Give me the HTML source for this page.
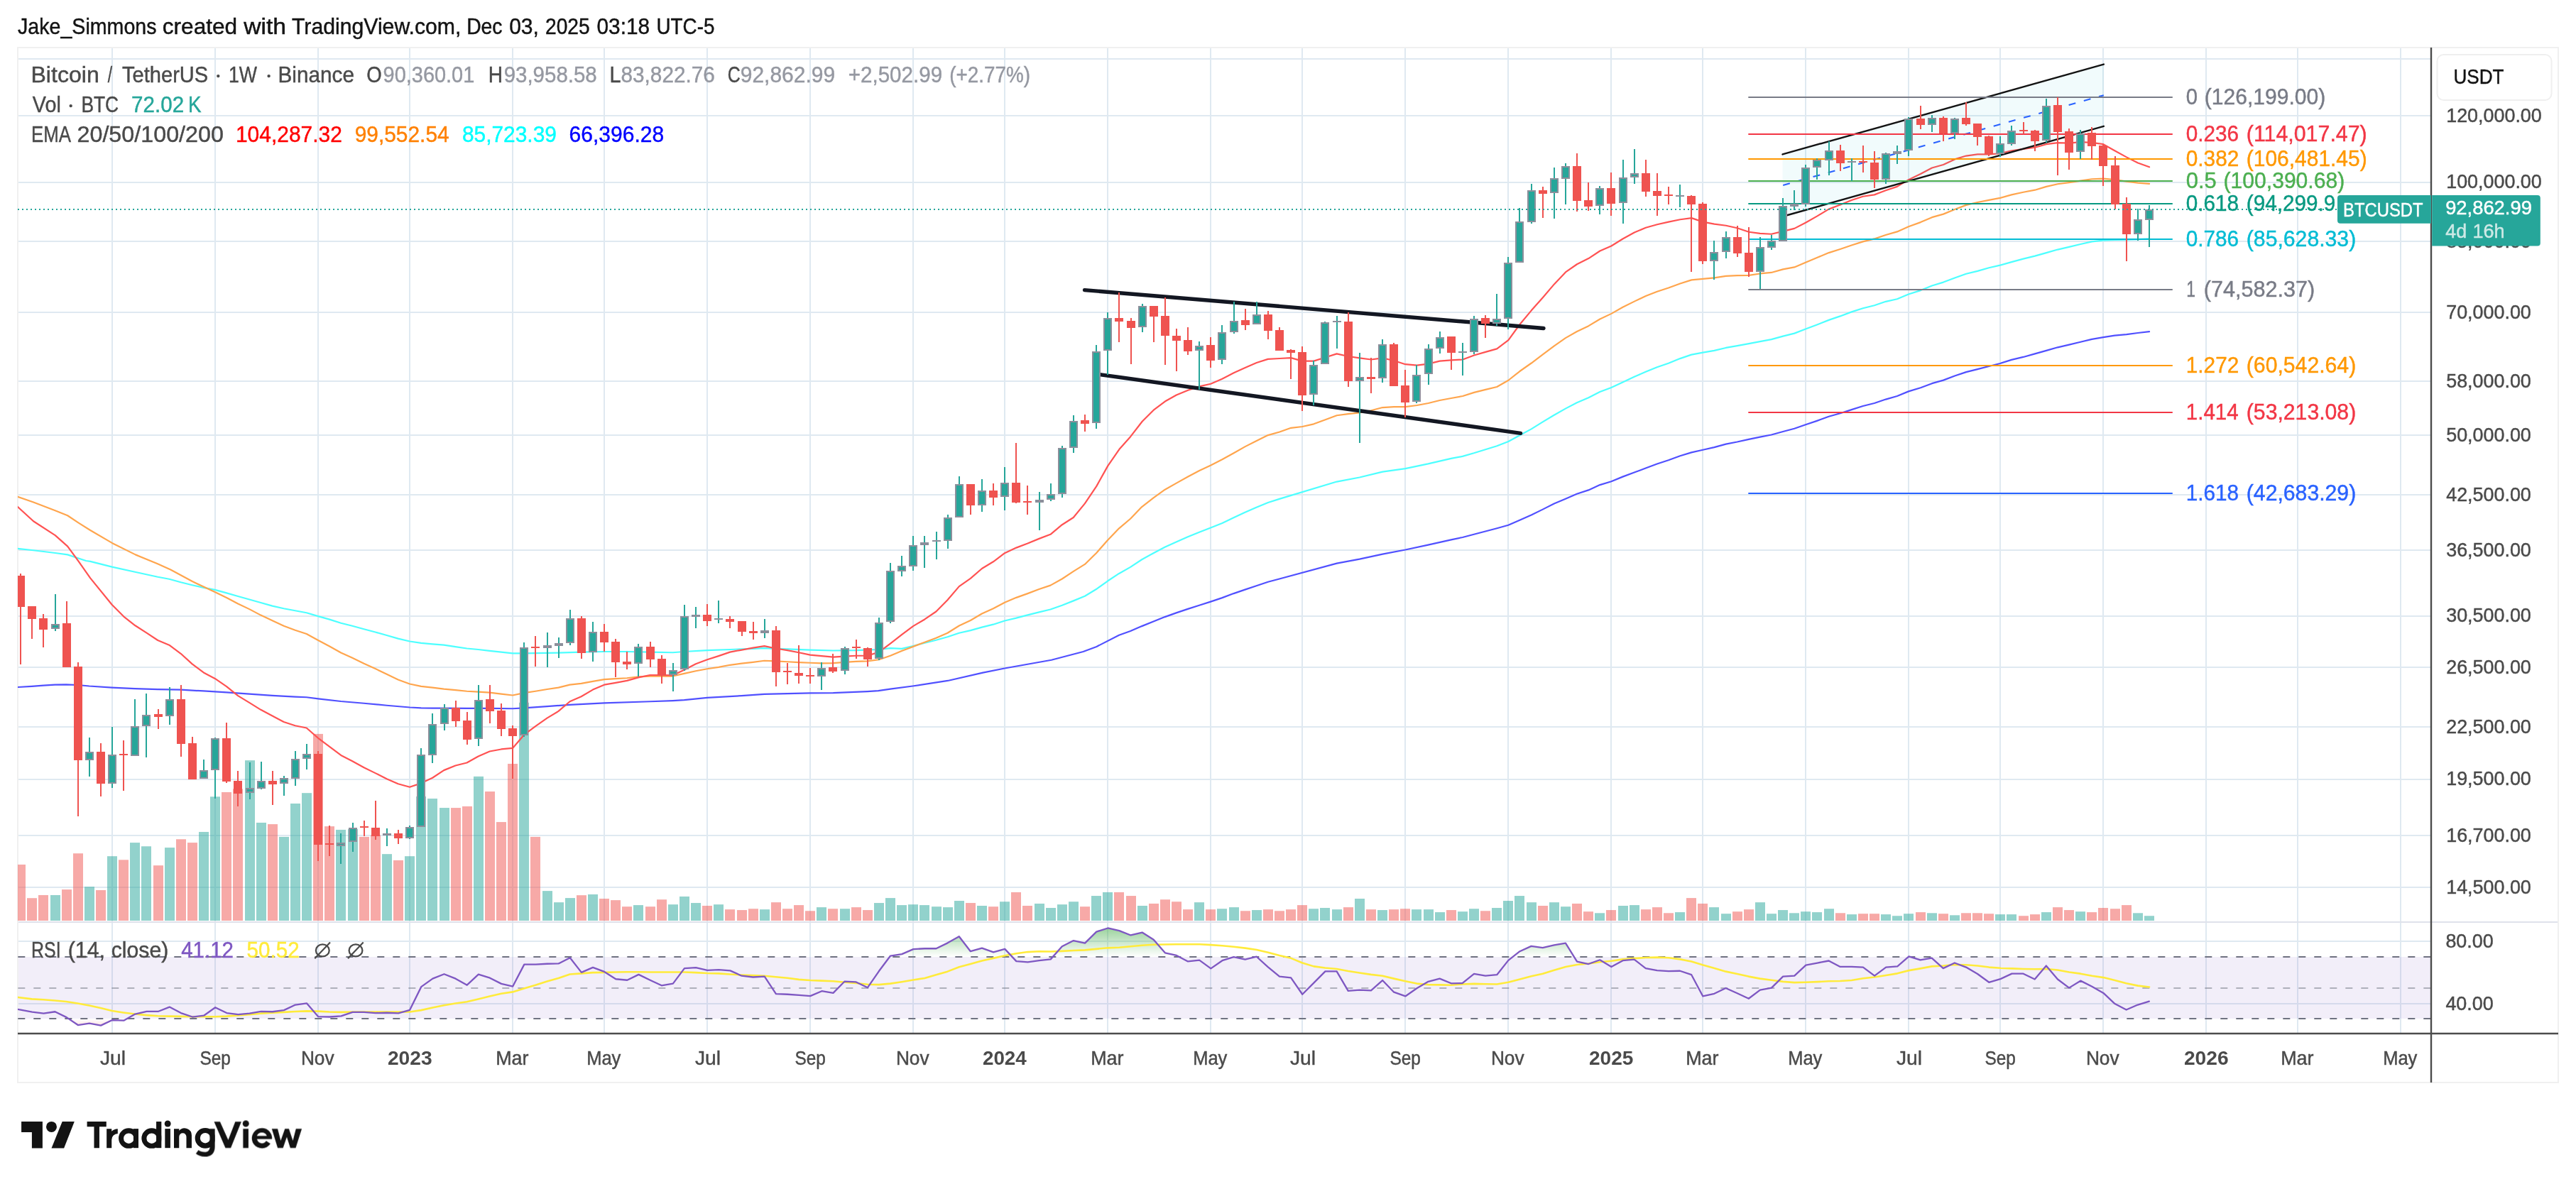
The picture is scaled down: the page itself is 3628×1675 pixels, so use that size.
<!DOCTYPE html>
<html><head><meta charset="utf-8"><title>BTCUSDT chart</title>
<style>html,body{margin:0;padding:0;background:#fff;}body{width:3628px;height:1675px;overflow:hidden;}svg{display:block;font-family:'Liberation Sans', sans-serif;}</style>
</head><body>
<svg width="3628" height="1675" viewBox="0 0 3628 1675">
<defs>
<linearGradient id="ob" x1="0" y1="0" x2="0" y2="1"><stop offset="0" stop-color="#4caf50" stop-opacity="0.75"/><stop offset="1" stop-color="#4caf50" stop-opacity="0"/></linearGradient>
<linearGradient id="os" x1="0" y1="0" x2="0" y2="1"><stop offset="0" stop-color="#ff5252" stop-opacity="0"/><stop offset="1" stop-color="#ff5252" stop-opacity="0.6"/></linearGradient>
<clipPath id="cpMain"><rect x="25" y="67" width="3399" height="1232"/></clipPath>
<clipPath id="cpAll"><rect x="25" y="67" width="3399" height="1389"/></clipPath>
</defs>
<rect x="0" y="0" width="3628" height="1675" fill="#ffffff"/>
<g opacity="0.999">
<text x="25.07" y="48.4" font-size="30.7" fill="#131313" stroke="#131313" stroke-width="0.45" textLength="195.46" lengthAdjust="spacingAndGlyphs">Jake_Simmons</text>
<text x="228.74" y="48.4" font-size="30.7" fill="#131313" stroke="#131313" stroke-width="0.45" textLength="105.48" lengthAdjust="spacingAndGlyphs">created</text>
<text x="343.17" y="48.4" font-size="30.7" fill="#131313" stroke="#131313" stroke-width="0.45" textLength="59.97" lengthAdjust="spacingAndGlyphs">with</text>
<text x="411" y="48.4" font-size="30.7" fill="#131313" stroke="#131313" stroke-width="0.45" textLength="238.36" lengthAdjust="spacingAndGlyphs">TradingView.com,</text>
<text x="657.13" y="48.4" font-size="30.7" fill="#131313" stroke="#131313" stroke-width="0.45" textLength="50.43" lengthAdjust="spacingAndGlyphs">Dec</text>
<text x="717.15" y="48.4" font-size="30.7" fill="#131313" stroke="#131313" stroke-width="0.45" textLength="41.76" lengthAdjust="spacingAndGlyphs">03,</text>
<text x="767.99" y="48.4" font-size="30.7" fill="#131313" stroke="#131313" stroke-width="0.45" textLength="62.73" lengthAdjust="spacingAndGlyphs">2025</text>
<text x="840.56" y="48.4" font-size="30.7" fill="#131313" stroke="#131313" stroke-width="0.45" textLength="74.51" lengthAdjust="spacingAndGlyphs">03:18</text>
<text x="924.51" y="48.4" font-size="30.7" fill="#131313" stroke="#131313" stroke-width="0.45" textLength="81.88" lengthAdjust="spacingAndGlyphs">UTC-5</text>
<rect x="25" y="67" width="3578" height="1458" fill="none" stroke="#f0f0f0" stroke-width="2"/>
<g stroke="#dfe9f1" stroke-width="2">
<line x1="26" y1="83" x2="3423" y2="83"/>
<line x1="26" y1="163" x2="3423" y2="163"/>
<line x1="26" y1="257" x2="3423" y2="257"/>
<line x1="26" y1="340" x2="3423" y2="340"/>
<line x1="26" y1="440" x2="3423" y2="440"/>
<line x1="26" y1="537" x2="3423" y2="537"/>
<line x1="26" y1="613" x2="3423" y2="613"/>
<line x1="26" y1="697" x2="3423" y2="697"/>
<line x1="26" y1="775" x2="3423" y2="775"/>
<line x1="26" y1="868" x2="3423" y2="868"/>
<line x1="26" y1="940" x2="3423" y2="940"/>
<line x1="26" y1="1024" x2="3423" y2="1024"/>
<line x1="26" y1="1098" x2="3423" y2="1098"/>
<line x1="26" y1="1177" x2="3423" y2="1177"/>
<line x1="26" y1="1250" x2="3423" y2="1250"/>
<line x1="26" y1="1326" x2="3423" y2="1326"/>
<line x1="26" y1="1414" x2="3423" y2="1414"/>
<line x1="158" y1="68" x2="158" y2="1455"/>
<line x1="303" y1="68" x2="303" y2="1455"/>
<line x1="448" y1="68" x2="448" y2="1455"/>
<line x1="577" y1="68" x2="577" y2="1455"/>
<line x1="722" y1="68" x2="722" y2="1455"/>
<line x1="851" y1="68" x2="851" y2="1455"/>
<line x1="996" y1="68" x2="996" y2="1455"/>
<line x1="1141" y1="68" x2="1141" y2="1455"/>
<line x1="1286" y1="68" x2="1286" y2="1455"/>
<line x1="1415" y1="68" x2="1415" y2="1455"/>
<line x1="1560" y1="68" x2="1560" y2="1455"/>
<line x1="1705" y1="68" x2="1705" y2="1455"/>
<line x1="1834" y1="68" x2="1834" y2="1455"/>
<line x1="1979" y1="68" x2="1979" y2="1455"/>
<line x1="2124" y1="68" x2="2124" y2="1455"/>
<line x1="2269" y1="68" x2="2269" y2="1455"/>
<line x1="2398" y1="68" x2="2398" y2="1455"/>
<line x1="2543" y1="68" x2="2543" y2="1455"/>
<line x1="2688" y1="68" x2="2688" y2="1455"/>
<line x1="2817" y1="68" x2="2817" y2="1455"/>
<line x1="2962" y1="68" x2="2962" y2="1455"/>
<line x1="3107" y1="68" x2="3107" y2="1455"/>
<line x1="3236" y1="68" x2="3236" y2="1455"/>
<line x1="3381" y1="68" x2="3381" y2="1455"/>
</g>
<line x1="26" y1="1299" x2="3602" y2="1299" stroke="#dfe2eb" stroke-width="2"/>
<g clip-path="url(#cpMain)">
<g fill-opacity="0.5">
<rect x="22" y="1217.98" width="14" height="79.02" fill="#ef5350"/>
<rect x="38" y="1265.21" width="14" height="31.79" fill="#ef5350"/>
<rect x="54" y="1260.97" width="14" height="36.03" fill="#ef5350"/>
<rect x="71" y="1260.97" width="14" height="36.03" fill="#26a69a"/>
<rect x="87" y="1253.1" width="14" height="43.9" fill="#ef5350"/>
<rect x="103" y="1202.24" width="14" height="94.76" fill="#ef5350"/>
<rect x="119" y="1249.17" width="14" height="47.83" fill="#26a69a"/>
<rect x="135" y="1254.01" width="14" height="42.99" fill="#ef5350"/>
<rect x="151" y="1206.18" width="14" height="90.82" fill="#26a69a"/>
<rect x="167" y="1211.32" width="14" height="85.68" fill="#ef5350"/>
<rect x="183" y="1187.1" width="14" height="109.9" fill="#26a69a"/>
<rect x="199" y="1192.25" width="14" height="104.75" fill="#26a69a"/>
<rect x="216" y="1219.19" width="14" height="77.81" fill="#ef5350"/>
<rect x="232" y="1194.07" width="14" height="102.93" fill="#26a69a"/>
<rect x="248" y="1182.26" width="14" height="114.74" fill="#ef5350"/>
<rect x="264" y="1187.1" width="14" height="109.9" fill="#ef5350"/>
<rect x="280" y="1171.96" width="14" height="125.04" fill="#26a69a"/>
<rect x="296" y="1122.31" width="14" height="174.69" fill="#26a69a"/>
<rect x="312" y="1115.96" width="14" height="181.04" fill="#ef5350"/>
<rect x="328" y="1111.41" width="14" height="185.59" fill="#ef5350"/>
<rect x="345" y="1071.15" width="14" height="225.85" fill="#26a69a"/>
<rect x="361" y="1158.95" width="14" height="138.05" fill="#26a69a"/>
<rect x="377" y="1161.07" width="14" height="135.93" fill="#ef5350"/>
<rect x="393" y="1178.93" width="14" height="118.07" fill="#26a69a"/>
<rect x="409" y="1132" width="14" height="165" fill="#26a69a"/>
<rect x="425" y="1117.17" width="14" height="179.83" fill="#26a69a"/>
<rect x="441" y="1033.91" width="14" height="263.09" fill="#ef5350"/>
<rect x="457" y="1164.09" width="14" height="132.91" fill="#ef5350"/>
<rect x="473" y="1168.94" width="14" height="128.06" fill="#26a69a"/>
<rect x="490" y="1168.03" width="14" height="128.97" fill="#26a69a"/>
<rect x="506" y="1178.93" width="14" height="118.07" fill="#ef5350"/>
<rect x="522" y="1176.51" width="14" height="120.49" fill="#ef5350"/>
<rect x="538" y="1203.15" width="14" height="93.85" fill="#26a69a"/>
<rect x="554" y="1211.93" width="14" height="85.07" fill="#ef5350"/>
<rect x="570" y="1206.18" width="14" height="90.82" fill="#26a69a"/>
<rect x="586" y="1122.01" width="14" height="174.99" fill="#26a69a"/>
<rect x="602" y="1125.04" width="14" height="171.96" fill="#26a69a"/>
<rect x="619" y="1138.06" width="14" height="158.94" fill="#26a69a"/>
<rect x="635" y="1138.06" width="14" height="158.94" fill="#ef5350"/>
<rect x="651" y="1135.94" width="14" height="161.06" fill="#ef5350"/>
<rect x="667" y="1093.85" width="14" height="203.15" fill="#26a69a"/>
<rect x="683" y="1115.05" width="14" height="181.95" fill="#ef5350"/>
<rect x="699" y="1158.04" width="14" height="138.96" fill="#ef5350"/>
<rect x="715" y="1075.99" width="14" height="221.01" fill="#ef5350"/>
<rect x="731" y="989.8" width="14" height="307.2" fill="#26a69a"/>
<rect x="747" y="1178.93" width="14" height="118.07" fill="#ef5350"/>
<rect x="764" y="1255.1" width="14" height="41.9" fill="#26a69a"/>
<rect x="780" y="1271.15" width="14" height="25.85" fill="#26a69a"/>
<rect x="796" y="1265.09" width="14" height="31.91" fill="#26a69a"/>
<rect x="812" y="1261.16" width="14" height="35.84" fill="#ef5350"/>
<rect x="828" y="1259.95" width="14" height="37.05" fill="#26a69a"/>
<rect x="844" y="1266" width="14" height="31" fill="#ef5350"/>
<rect x="860" y="1268.12" width="14" height="28.88" fill="#ef5350"/>
<rect x="876" y="1277.2" width="14" height="19.8" fill="#ef5350"/>
<rect x="892" y="1275.08" width="14" height="21.92" fill="#26a69a"/>
<rect x="909" y="1277.2" width="14" height="19.8" fill="#ef5350"/>
<rect x="925" y="1267.21" width="14" height="29.79" fill="#ef5350"/>
<rect x="941" y="1274.17" width="14" height="22.83" fill="#26a69a"/>
<rect x="957" y="1262.97" width="14" height="34.03" fill="#26a69a"/>
<rect x="973" y="1272.06" width="14" height="24.94" fill="#26a69a"/>
<rect x="989" y="1275.99" width="14" height="21.01" fill="#ef5350"/>
<rect x="1005" y="1274.17" width="14" height="22.83" fill="#26a69a"/>
<rect x="1021" y="1281.14" width="14" height="15.86" fill="#ef5350"/>
<rect x="1038" y="1282.05" width="14" height="14.95" fill="#ef5350"/>
<rect x="1054" y="1280.23" width="14" height="16.77" fill="#ef5350"/>
<rect x="1070" y="1281.14" width="14" height="15.86" fill="#26a69a"/>
<rect x="1086" y="1271.15" width="14" height="25.85" fill="#ef5350"/>
<rect x="1102" y="1280.23" width="14" height="16.77" fill="#ef5350"/>
<rect x="1118" y="1275.08" width="14" height="21.92" fill="#ef5350"/>
<rect x="1134" y="1283.26" width="14" height="13.74" fill="#ef5350"/>
<rect x="1150" y="1278.11" width="14" height="18.89" fill="#26a69a"/>
<rect x="1166" y="1280.23" width="14" height="16.77" fill="#ef5350"/>
<rect x="1183" y="1280.23" width="14" height="16.77" fill="#26a69a"/>
<rect x="1199" y="1278.11" width="14" height="18.89" fill="#ef5350"/>
<rect x="1215" y="1282.05" width="14" height="14.95" fill="#ef5350"/>
<rect x="1231" y="1272.06" width="14" height="24.94" fill="#26a69a"/>
<rect x="1247" y="1265.09" width="14" height="31.91" fill="#26a69a"/>
<rect x="1263" y="1275.08" width="14" height="21.92" fill="#26a69a"/>
<rect x="1279" y="1274.17" width="14" height="22.83" fill="#26a69a"/>
<rect x="1295" y="1275.08" width="14" height="21.92" fill="#26a69a"/>
<rect x="1312" y="1277.2" width="14" height="19.8" fill="#26a69a"/>
<rect x="1328" y="1278.11" width="14" height="18.89" fill="#26a69a"/>
<rect x="1344" y="1269.03" width="14" height="27.97" fill="#26a69a"/>
<rect x="1360" y="1272.06" width="14" height="24.94" fill="#ef5350"/>
<rect x="1376" y="1275.99" width="14" height="21.01" fill="#26a69a"/>
<rect x="1392" y="1277.2" width="14" height="19.8" fill="#ef5350"/>
<rect x="1408" y="1270.24" width="14" height="26.76" fill="#26a69a"/>
<rect x="1424" y="1256.92" width="14" height="40.08" fill="#ef5350"/>
<rect x="1440" y="1275.99" width="14" height="21.01" fill="#ef5350"/>
<rect x="1457" y="1272.96" width="14" height="24.04" fill="#26a69a"/>
<rect x="1473" y="1279.02" width="14" height="17.98" fill="#26a69a"/>
<rect x="1489" y="1274.17" width="14" height="22.83" fill="#26a69a"/>
<rect x="1505" y="1270.24" width="14" height="26.76" fill="#26a69a"/>
<rect x="1521" y="1277.2" width="14" height="19.8" fill="#ef5350"/>
<rect x="1537" y="1262.06" width="14" height="34.94" fill="#26a69a"/>
<rect x="1553" y="1256.92" width="14" height="40.08" fill="#26a69a"/>
<rect x="1569" y="1256.92" width="14" height="40.08" fill="#ef5350"/>
<rect x="1586" y="1262.06" width="14" height="34.94" fill="#ef5350"/>
<rect x="1602" y="1275.99" width="14" height="21.01" fill="#26a69a"/>
<rect x="1618" y="1272.96" width="14" height="24.04" fill="#ef5350"/>
<rect x="1634" y="1267.21" width="14" height="29.79" fill="#ef5350"/>
<rect x="1650" y="1270.24" width="14" height="26.76" fill="#ef5350"/>
<rect x="1666" y="1281.14" width="14" height="15.86" fill="#ef5350"/>
<rect x="1682" y="1271.15" width="14" height="25.85" fill="#26a69a"/>
<rect x="1698" y="1281.14" width="14" height="15.86" fill="#ef5350"/>
<rect x="1714" y="1280.23" width="14" height="16.77" fill="#26a69a"/>
<rect x="1731" y="1278.11" width="14" height="18.89" fill="#26a69a"/>
<rect x="1747" y="1283.26" width="14" height="13.74" fill="#ef5350"/>
<rect x="1763" y="1282.05" width="14" height="14.95" fill="#26a69a"/>
<rect x="1779" y="1281.14" width="14" height="15.86" fill="#ef5350"/>
<rect x="1795" y="1283.26" width="14" height="13.74" fill="#ef5350"/>
<rect x="1811" y="1281.14" width="14" height="15.86" fill="#ef5350"/>
<rect x="1827" y="1275.08" width="14" height="21.92" fill="#ef5350"/>
<rect x="1843" y="1280.23" width="14" height="16.77" fill="#26a69a"/>
<rect x="1859" y="1279.02" width="14" height="17.98" fill="#26a69a"/>
<rect x="1876" y="1281.14" width="14" height="15.86" fill="#26a69a"/>
<rect x="1892" y="1278.11" width="14" height="18.89" fill="#ef5350"/>
<rect x="1908" y="1266" width="14" height="31" fill="#26a69a"/>
<rect x="1924" y="1281.14" width="14" height="15.86" fill="#ef5350"/>
<rect x="1940" y="1282.05" width="14" height="14.95" fill="#26a69a"/>
<rect x="1956" y="1281.14" width="14" height="15.86" fill="#ef5350"/>
<rect x="1972" y="1280.23" width="14" height="16.77" fill="#ef5350"/>
<rect x="1988" y="1281.14" width="14" height="15.86" fill="#26a69a"/>
<rect x="2005" y="1281.14" width="14" height="15.86" fill="#26a69a"/>
<rect x="2021" y="1285.07" width="14" height="11.93" fill="#26a69a"/>
<rect x="2037" y="1282.05" width="14" height="14.95" fill="#ef5350"/>
<rect x="2053" y="1284.17" width="14" height="12.83" fill="#26a69a"/>
<rect x="2069" y="1280.23" width="14" height="16.77" fill="#26a69a"/>
<rect x="2085" y="1283.26" width="14" height="13.74" fill="#ef5350"/>
<rect x="2101" y="1279.02" width="14" height="17.98" fill="#26a69a"/>
<rect x="2117" y="1269.03" width="14" height="27.97" fill="#26a69a"/>
<rect x="2133" y="1262.06" width="14" height="34.94" fill="#26a69a"/>
<rect x="2150" y="1271.15" width="14" height="25.85" fill="#26a69a"/>
<rect x="2166" y="1275.99" width="14" height="21.01" fill="#ef5350"/>
<rect x="2182" y="1271.15" width="14" height="25.85" fill="#26a69a"/>
<rect x="2198" y="1277.2" width="14" height="19.8" fill="#26a69a"/>
<rect x="2214" y="1272.96" width="14" height="24.04" fill="#ef5350"/>
<rect x="2230" y="1284.17" width="14" height="12.83" fill="#ef5350"/>
<rect x="2246" y="1286.29" width="14" height="10.71" fill="#26a69a"/>
<rect x="2262" y="1282.05" width="14" height="14.95" fill="#ef5350"/>
<rect x="2279" y="1275.99" width="14" height="21.01" fill="#26a69a"/>
<rect x="2295" y="1275.08" width="14" height="21.92" fill="#26a69a"/>
<rect x="2311" y="1281.14" width="14" height="15.86" fill="#ef5350"/>
<rect x="2327" y="1278.11" width="14" height="18.89" fill="#ef5350"/>
<rect x="2343" y="1286.29" width="14" height="10.71" fill="#ef5350"/>
<rect x="2359" y="1285.07" width="14" height="11.93" fill="#26a69a"/>
<rect x="2375" y="1265.09" width="14" height="31.91" fill="#ef5350"/>
<rect x="2391" y="1272.96" width="14" height="24.04" fill="#ef5350"/>
<rect x="2407" y="1278.11" width="14" height="18.89" fill="#26a69a"/>
<rect x="2424" y="1287.19" width="14" height="9.81" fill="#26a69a"/>
<rect x="2440" y="1284.17" width="14" height="12.83" fill="#ef5350"/>
<rect x="2456" y="1281.14" width="14" height="15.86" fill="#ef5350"/>
<rect x="2472" y="1271.15" width="14" height="25.85" fill="#26a69a"/>
<rect x="2488" y="1287.19" width="14" height="9.81" fill="#26a69a"/>
<rect x="2504" y="1282.05" width="14" height="14.95" fill="#26a69a"/>
<rect x="2520" y="1286.29" width="14" height="10.71" fill="#26a69a"/>
<rect x="2536" y="1284.17" width="14" height="12.83" fill="#26a69a"/>
<rect x="2552" y="1285.07" width="14" height="11.93" fill="#26a69a"/>
<rect x="2569" y="1280.23" width="14" height="16.77" fill="#26a69a"/>
<rect x="2585" y="1286.29" width="14" height="10.71" fill="#ef5350"/>
<rect x="2601" y="1288.1" width="14" height="8.9" fill="#26a69a"/>
<rect x="2617" y="1287.19" width="14" height="9.81" fill="#ef5350"/>
<rect x="2633" y="1287.19" width="14" height="9.81" fill="#ef5350"/>
<rect x="2649" y="1288.1" width="14" height="8.9" fill="#26a69a"/>
<rect x="2665" y="1290.22" width="14" height="6.78" fill="#26a69a"/>
<rect x="2681" y="1287.19" width="14" height="9.81" fill="#26a69a"/>
<rect x="2698" y="1285.07" width="14" height="11.93" fill="#ef5350"/>
<rect x="2714" y="1286.29" width="14" height="10.71" fill="#26a69a"/>
<rect x="2730" y="1287.19" width="14" height="9.81" fill="#ef5350"/>
<rect x="2746" y="1289.31" width="14" height="7.69" fill="#26a69a"/>
<rect x="2762" y="1286.29" width="14" height="10.71" fill="#ef5350"/>
<rect x="2778" y="1286.29" width="14" height="10.71" fill="#ef5350"/>
<rect x="2794" y="1287.19" width="14" height="9.81" fill="#ef5350"/>
<rect x="2810" y="1288.1" width="14" height="8.9" fill="#26a69a"/>
<rect x="2826" y="1288.1" width="14" height="8.9" fill="#26a69a"/>
<rect x="2843" y="1290.22" width="14" height="6.78" fill="#ef5350"/>
<rect x="2859" y="1288.1" width="14" height="8.9" fill="#ef5350"/>
<rect x="2875" y="1285.07" width="14" height="11.93" fill="#26a69a"/>
<rect x="2891" y="1278.11" width="14" height="18.89" fill="#ef5350"/>
<rect x="2907" y="1282.05" width="14" height="14.95" fill="#ef5350"/>
<rect x="2923" y="1284.17" width="14" height="12.83" fill="#26a69a"/>
<rect x="2939" y="1285.07" width="14" height="11.93" fill="#ef5350"/>
<rect x="2955" y="1279.02" width="14" height="17.98" fill="#ef5350"/>
<rect x="2972" y="1280.23" width="14" height="16.77" fill="#ef5350"/>
<rect x="2988" y="1275.08" width="14" height="21.92" fill="#ef5350"/>
<rect x="3004" y="1286.29" width="14" height="10.71" fill="#26a69a"/>
<rect x="3020" y="1290.22" width="14" height="6.78" fill="#26a69a"/>
</g>
<polyline points="25.43,968.02 44.81,966.81 61.16,965.6 77.2,964.69 93.25,964.39 109.29,964.99 125.64,966.51 157.74,968.63 190.13,970.14 222.22,971.05 254.62,971.65 286.71,973.47 319.1,975.29 351.2,977.71 383.59,979.83 415.68,981.64 431.73,982.25 448.08,984.37 480.17,988 512.56,990.73 544.66,993.75 577.05,996.48 593.1,997.39 609.14,997.69 625.15,997.64 657.54,997.95 689.63,997.95 722.03,998.25 738.07,997.34 770.47,995.22 802.56,992.8 851,990.38 915.49,988.26 947.58,987.05 963.63,986.14 996.02,982.81 1044.46,980.08 1076.55,977.97 1141.04,976.45 1173.44,976.15 1221.57,974.03 1236.91,973.11 1253.97,970.7 1285.37,966.5 1334.82,958.96 1384.28,947.66 1414.9,941.54 1480.84,929.76 1525.59,917.98 1544.43,910.92 1576.06,894.83 1592.1,889.08 1608.15,882.11 1624.5,875.45 1640.54,869.09 1656.59,863.34 1672.94,857.89 1688.99,852.75 1705.03,847.6 1721.38,842.15 1737.43,836.09 1753.47,830.64 1769.52,825.2 1785.87,819.75 1801.91,815.51 1882.71,793.62 1914.8,787.56 1947.19,780.6 1979.29,774.54 2011.38,767.58 2043.77,760.31 2059.82,756.98 2075.86,752.75 2108.26,744.27 2124.31,739.73 2140.35,732.76 2156.7,725.5 2172.75,717.63 2188.79,709.45 2204.84,702.79 2220.88,695.83 2237.23,690.38 2253.28,683.11 2269.32,678.27 2285.37,671.61 2301.72,665.55 2317.77,659.5 2333.81,653.44 2349.86,648.3 2366.21,642.24 2382.25,637.4 2398.3,633.76 2414.34,630.13 2430.69,625.59 2446.66,622.52 2463.01,618.89 2478.75,615.56 2494.8,612.53 2511.15,607.99 2527.19,603.75 2542.94,598.3 2558.98,592.85 2575.63,586.8 2591.68,582.26 2607.73,577.11 2623.77,571.96 2639.82,568.03 2655.86,562.58 2671.91,558.04 2687.96,551.38 2704.91,546.23 2720.96,540.18 2737,535.63 2753.05,529.58 2769.09,524.13 2785.14,520.19 2801.19,515.96 2816.93,512.02 2832.98,506.87 2849.63,502.94 2865.98,498.4 2882.02,493.85 2898.07,489.31 2914.11,485.68 2930.16,481.74 2946.21,477.81 2962.25,475.08 2978.3,472.66 2994.95,471.15 3011,469.03 3027.04,467.21" fill="none" stroke="#5050ff" stroke-width="2.2" stroke-linejoin="round" stroke-linecap="round"/>
<polyline points="24.96,772.91 47.1,775.26 77.72,779.03 95.15,781.38 121.1,790 127.18,790.81 157.77,798.65 190.13,805.74 222.22,812.71 238.27,815.73 254.62,820.28 270.66,824.21 286.71,827.84 302.76,830.87 319.1,835.41 335.15,839.95 351.2,844.5 367.24,849.04 383.59,853.58 399.64,857.21 415.68,860.24 431.73,863.27 448.08,868.11 464.12,872.65 480.17,877.8 496.22,881.73 512.56,886.28 528.61,890.51 544.66,895.06 560.7,899.6 577.05,903.53 593.1,905.96 609.14,907.47 625.15,908.63 641.5,911.06 657.54,913.48 673.59,914.99 689.63,916.81 705.98,918.63 722.03,920.44 738.07,920.44 754.12,920.14 786.52,919.53 818.61,918.63 851,918.02 883.09,918.02 915.49,918.63 947.58,919.23 963.63,918.02 996.02,916.2 1028.11,914.99 1060.51,913.78 1076.55,913.18 1092.6,913.78 1108.95,914.39 1141.04,915.6 1173.44,916.51 1205.53,916.2 1237.92,914.99 1253.97,913.18 1269.97,913.9 1286.02,909.97 1302.37,905.73 1318.41,901.79 1334.46,897.25 1350.81,891.8 1366.85,888.17 1382.9,883.63 1398.95,879.69 1414.99,874.54 1431.34,870.61 1447.39,866.37 1463.43,862.43 1479.48,858.5 1495.83,852.75 1511.87,846.39 1527.92,839.73 1543.97,830.04 1560.01,818.53 1576.06,807.94 1592.1,798.86 1608.15,788.26 1624.5,779.18 1640.54,770.7 1656.59,763.43 1672.94,756.17 1688.99,749.81 1705.03,743.45 1721.38,737.09 1737.43,729.22 1753.47,721.65 1769.52,714.69 1785.87,708.03 1801.91,702.88 1882.71,678.57 1914.8,672.52 1947.19,664.64 1979.29,660.1 2011.38,653.44 2043.77,645.87 2059.82,642.85 2075.86,638.3 2108.26,628.31 2124.31,621.96 2140.35,613.18 2156.7,604.4 2172.75,594.41 2188.79,584.72 2204.84,575.63 2220.88,567.16 2237.23,560.19 2253.28,552.02 2269.32,545.96 2285.37,538.4 2301.72,530.83 2317.77,523.86 2333.81,517.2 2349.86,511.75 2366.21,505.09 2382.25,499.64 2398.3,496.62 2414.34,493.89 2430.69,489.95 2446.66,487.19 2463.01,484.17 2478.75,481.14 2494.8,478.11 2511.15,473.57 2527.19,469.63 2542.94,463.58 2558.98,457.52 2575.63,450.86 2591.68,445.41 2607.73,439.36 2623.77,434.21 2639.82,430.28 2655.86,424.83 2671.91,421.2 2687.96,414.54 2704.91,409.09 2720.96,402.43 2737,397.58 2753.05,391.53 2769.09,385.77 2785.14,381.84 2801.19,377.3 2816.93,373.66 2832.98,369.12 2849.63,364.58 2865.98,360.64 2882.02,356.1 2898.07,351.56 2914.11,347.93 2930.16,343.99 2946.21,340.36 2962.25,338.54 2978.3,337.94 2994.95,337.64 3011,337.03 3027.04,336.42" fill="none" stroke="#4dffff" stroke-width="2.2" stroke-linejoin="round" stroke-linecap="round"/>
<polyline points="24.96,699.9 47.1,707.43 77.72,719.21 95.15,726.27 110.69,736.64 127.18,747 157.8,764.9 190.77,781.38 221.38,794.1 240.23,802.58 270.84,819.07 302.11,833.85 319.1,842.07 335.15,850.55 351.2,858.12 367.24,866.6 383.59,874.17 399.64,881.73 415.68,887.79 431.73,892.94 448.08,902.02 464.12,910.5 480.17,919.58 496.22,926.85 512.56,934.72 528.61,941.98 544.66,949.85 560.7,957.42 577.05,963.48 593.1,966.81 609.14,968.63 625.15,970.7 641.5,972.21 657.54,973.73 673.59,974.64 689.63,975.54 705.98,977.66 722.03,979.48 738.07,976.15 754.12,973.73 770.47,971 786.52,968.58 802.56,964.64 818.61,962.83 834.96,959.8 851,957.08 867.05,956.17 883.09,955.26 899.14,953.44 915.49,952.53 931.53,952.53 947.58,952.53 963.63,948.9 979.98,945.27 996.02,942.24 1012.07,939.82 1028.11,936.79 1044.46,934.67 1060.51,932.85 1076.55,930.74 1092.6,931.34 1108.95,932.25 1125,933.16 1141.04,933.76 1157.09,934.37 1173.44,934.07 1189.48,932.85 1205.53,931.95 1221.57,931.34 1237.92,929.22 1253.97,923.77 1269.97,916.93 1286.02,910.87 1302.37,904.82 1318.41,898.76 1334.46,891.8 1350.81,881.51 1366.85,873.94 1382.9,864.55 1398.95,857.29 1414.99,848.81 1431.34,841.85 1447.39,836.09 1463.43,830.04 1479.48,824.59 1495.83,815.51 1511.87,804.91 1527.92,794.92 1543.97,779.18 1560.01,761.01 1576.06,744.36 1592.1,730.74 1608.15,714.08 1624.5,701.37 1640.76,689.68 1656.81,680.6 1673.16,671.52 1689.2,663.04 1705.25,655.47 1721.3,647.3 1737.64,638.21 1753.69,629.13 1769.74,620.96 1785.78,613.09 1802.13,608.54 1818.18,602.79 1834.22,600.97 1850.27,597.34 1866.62,591.29 1882.66,585.23 1898.71,583.11 1914.76,581.3 1931.11,578.27 1947.15,574.03 1963.2,573.12 1979.24,573.12 1995.59,571 2011.64,567.97 2027.68,564.04 2043.73,561.01 2060.08,557.98 2076.12,552.84 2092.17,548.9 2108.22,544.97 2124.4,535.74 2140.44,523.02 2156.79,511.52 2172.84,499.41 2188.88,487.3 2204.93,476.09 2220.97,467.01 2237.32,459.14 2253.37,449.45 2269.42,441.88 2285.46,432.8 2301.81,424.63 2317.86,417.06 2333.9,410.7 2349.95,405.55 2366.3,399.5 2382.34,394.35 2398.39,392.84 2414.44,391.32 2430.78,388.9 2446.66,388.2 2463.01,387.89 2478.75,385.47 2494.8,383.96 2511.15,379.42 2527.19,376.39 2542.94,369.73 2558.98,363.07 2575.63,356.1 2591.68,350.96 2607.73,345.51 2623.77,340.36 2639.82,336.42 2655.86,330.97 2671.91,326.43 2687.96,319.17 2704.91,313.11 2720.96,306.15 2737,301.61 2753.05,294.95 2769.09,288.89 2785.14,284.96 2801.19,281.93 2816.93,278.9 2832.98,274.36 2849.63,270.73 2865.98,267.7 2882.02,262.85 2898.07,259.22 2914.11,257.1 2930.16,254.68 2946.21,252.26 2962.25,251.65 2978.3,253.17 2994.95,255.59 3011,257.71 3027.04,258.92" fill="none" stroke="#ffa54d" stroke-width="2.2" stroke-linejoin="round" stroke-linecap="round"/>
<polyline points="24.96,714.03 47.1,734.28 77.72,754.07 95.15,769.61 110.69,790.81 127.18,814.36 157.8,852.04 174.28,868.53 190.45,881.27 206.18,891.42 222.22,902.02 238.27,908.68 254.62,920.79 270.66,935.32 286.71,947.43 302.76,955.91 319.1,967.11 335.15,980.13 351.2,989.82 367.24,999.81 383.59,1008.59 399.64,1017.07 415.68,1022.21 431.73,1025.54 448.08,1039.77 464.12,1051.88 480.17,1063.99 496.22,1072.17 512.56,1081.25 528.61,1089.12 544.66,1097.3 560.7,1104.26 577.05,1108.8 593.1,1103.35 609.14,1095.78 625.15,1085.14 641.5,1078.48 657.54,1074.54 673.59,1065.46 689.63,1058.5 705.98,1055.47 722.03,1053.96 738.07,1035.19 754.12,1023.08 770.47,1011.57 786.52,1001.88 802.56,988.26 818.61,981.3 834.96,971.61 851,964.64 867.05,961.92 883.09,958.89 899.14,954.35 915.49,951.02 931.53,951.02 947.58,951.32 963.63,943.75 979.98,935.28 996.02,929.22 1012.07,924.08 1028.11,918.63 1044.46,915.6 1060.51,912.57 1076.55,910.15 1092.6,913.48 1108.95,916.2 1125,919.23 1141.04,922.56 1157.09,924.08 1173.44,925.59 1189.48,924.68 1205.53,923.77 1221.57,923.77 1237.92,918.63 1253.97,906.52 1269.97,894.22 1286.02,882.11 1302.37,872.43 1318.41,861.53 1334.46,845.18 1350.81,826.1 1366.85,814.9 1382.9,800.97 1398.95,791.29 1414.99,779.18 1431.34,771.61 1447.39,765.55 1463.43,758.89 1479.48,752.84 1495.83,739.21 1511.79,729.04 1527.84,709.36 1544.18,685.14 1560.23,656.38 1576.28,633.07 1592.32,614.9 1608.67,593.71 1624.72,577.66 1640.76,565.55 1656.81,556.47 1673.16,549.81 1689.2,544.36 1705.25,540.73 1721.3,533.76 1737.64,525.29 1753.69,518.02 1769.74,511.06 1785.78,505.91 1802.13,505 1818.18,504.09 1834.22,508.63 1850.27,508.63 1866.62,503.49 1882.66,498.34 1898.71,501.97 1914.76,504.4 1931.11,506.52 1947.15,504.4 1963.2,508.03 1979.24,513.18 1995.59,514.69 2011.64,512.57 2027.68,508.63 2043.73,507.42 2060.08,506.52 2076.12,500.46 2092.17,495.92 2108.22,491.38 2124.4,479.12 2140.44,457.02 2156.79,437.34 2172.84,419.18 2188.88,400.41 2204.93,383.45 2220.97,372.25 2237.32,364.08 2253.37,353.48 2269.42,346.52 2285.46,336.52 2301.81,327.44 2317.86,320.78 2333.9,316.24 2349.95,312.61 2366.3,309.28 2382.34,307.16 2398.39,312.61 2414.44,315.63 2430.78,317.75 2446.66,321.29 2463.01,326.74 2478.75,328.86 2494.8,329.76 2511.15,325.83 2527.19,321.89 2542.94,313.72 2558.98,304.64 2575.63,294.64 2591.68,288.59 2607.73,281.93 2623.77,276.78 2639.82,274.36 2655.86,268.3 2671.91,262.85 2687.96,253.17 2704.91,244.99 2720.96,236.52 2737,231.97 2753.05,224.41 2769.09,219.56 2785.14,217.44 2801.19,217.44 2816.93,216.23 2832.98,212.29 2849.63,209.87 2865.98,207.75 2882.02,203.21 2898.07,201.09 2914.11,201.7 2930.16,200.18 2946.21,200.79 2962.25,203.21 2978.3,212.29 2994.95,221.38 3011,229.55 3027.04,235.3" fill="none" stroke="#ff5252" stroke-width="2.2" stroke-linejoin="round" stroke-linecap="round"/>
<polygon points="2510.5,217.4 2962.8,90.6 2962.8,177.8 2510.5,305.0" fill="#00bcd4" fill-opacity="0.06"/>
<line x1="2510.5" y1="217.4" x2="2962.8" y2="90.6" stroke="#131313" stroke-width="2.4" stroke-linecap="round"/>
<line x1="2510.5" y1="305" x2="2962.8" y2="177.8" stroke="#131313" stroke-width="2.4" stroke-linecap="round"/>
<line x1="2511.2" y1="261" x2="2962.8" y2="134.2" stroke="#2962ff" stroke-width="2.1" stroke-dasharray="10 12"/>
<line x1="2462.3" y1="137" x2="3059.8" y2="137" stroke="#787b86" stroke-width="2"/>
<line x1="2462.3" y1="189" x2="3059.8" y2="189" stroke="#f23645" stroke-width="2"/>
<line x1="2462.3" y1="224" x2="3059.8" y2="224" stroke="#ff9800" stroke-width="2"/>
<line x1="2462.3" y1="255" x2="3059.8" y2="255" stroke="#4caf50" stroke-width="2"/>
<line x1="2462.3" y1="287" x2="3059.8" y2="287" stroke="#089981" stroke-width="2"/>
<line x1="2462.3" y1="337" x2="3059.8" y2="337" stroke="#00bcd4" stroke-width="2"/>
<line x1="2462.3" y1="408" x2="3059.8" y2="408" stroke="#787b86" stroke-width="2"/>
<line x1="2462.3" y1="515" x2="3059.8" y2="515" stroke="#ff9800" stroke-width="2"/>
<line x1="2462.3" y1="581" x2="3059.8" y2="581" stroke="#f23645" stroke-width="2"/>
<line x1="2462.3" y1="695" x2="3059.8" y2="695" stroke="#2962ff" stroke-width="2"/>
<line x1="1527.5" y1="408.6" x2="2174" y2="462.5" stroke="#131722" stroke-width="5.4" stroke-linecap="round"/>
<line x1="1550.5" y1="527.8" x2="2141.6" y2="610.4" stroke="#131722" stroke-width="5.4" stroke-linecap="round"/>
<rect x="28" y="808" width="2" height="128" fill="#ef5350"/>
<rect x="23" y="811" width="12" height="44" fill="#ef5350"/>
<rect x="44" y="854" width="2" height="46" fill="#ef5350"/>
<rect x="39" y="854" width="12" height="18" fill="#ef5350"/>
<rect x="60" y="865" width="2" height="47" fill="#ef5350"/>
<rect x="55" y="871" width="12" height="16" fill="#ef5350"/>
<rect x="77" y="837" width="2" height="52" fill="#26a69a"/>
<rect x="72" y="879" width="12" height="7" fill="#8c8f9b"/>
<rect x="74" y="881" width="8" height="3" fill="#26a69a"/>
<rect x="93" y="847" width="2" height="93" fill="#ef5350"/>
<rect x="88" y="878" width="12" height="62" fill="#ef5350"/>
<rect x="109" y="933" width="2" height="217" fill="#ef5350"/>
<rect x="104" y="939" width="12" height="132" fill="#ef5350"/>
<rect x="125" y="1039" width="2" height="55" fill="#26a69a"/>
<rect x="120" y="1059" width="12" height="12" fill="#8c8f9b"/>
<rect x="122" y="1061" width="8" height="8" fill="#26a69a"/>
<rect x="141" y="1047" width="2" height="75" fill="#ef5350"/>
<rect x="136" y="1059" width="12" height="45" fill="#ef5350"/>
<rect x="157" y="1024" width="2" height="86" fill="#26a69a"/>
<rect x="152" y="1063" width="12" height="41" fill="#8c8f9b"/>
<rect x="154" y="1065" width="8" height="37" fill="#26a69a"/>
<rect x="173" y="1043" width="2" height="71" fill="#ef5350"/>
<rect x="168" y="1062" width="12" height="2" fill="#ef5350"/>
<rect x="189" y="985" width="2" height="80" fill="#26a69a"/>
<rect x="184" y="1023" width="12" height="42" fill="#8c8f9b"/>
<rect x="186" y="1025" width="8" height="38" fill="#26a69a"/>
<rect x="205" y="977" width="2" height="90" fill="#26a69a"/>
<rect x="200" y="1007" width="12" height="16" fill="#8c8f9b"/>
<rect x="202" y="1009" width="8" height="12" fill="#26a69a"/>
<rect x="222" y="999" width="2" height="28" fill="#ef5350"/>
<rect x="217" y="1006" width="12" height="4" fill="#ef5350"/>
<rect x="238" y="968" width="2" height="53" fill="#26a69a"/>
<rect x="233" y="985" width="12" height="24" fill="#8c8f9b"/>
<rect x="235" y="987" width="8" height="20" fill="#26a69a"/>
<rect x="254" y="965" width="2" height="101" fill="#ef5350"/>
<rect x="249" y="985" width="12" height="63" fill="#ef5350"/>
<rect x="270" y="1038" width="2" height="60" fill="#ef5350"/>
<rect x="265" y="1047" width="12" height="51" fill="#ef5350"/>
<rect x="286" y="1070" width="2" height="27" fill="#26a69a"/>
<rect x="281" y="1085" width="12" height="12" fill="#8c8f9b"/>
<rect x="283" y="1087" width="8" height="8" fill="#26a69a"/>
<rect x="302" y="1039" width="2" height="86" fill="#26a69a"/>
<rect x="297" y="1040" width="12" height="45" fill="#8c8f9b"/>
<rect x="299" y="1042" width="8" height="41" fill="#26a69a"/>
<rect x="318" y="1018" width="2" height="85" fill="#ef5350"/>
<rect x="313" y="1040" width="12" height="61" fill="#ef5350"/>
<rect x="334" y="1086" width="2" height="50" fill="#ef5350"/>
<rect x="329" y="1100" width="12" height="18" fill="#ef5350"/>
<rect x="351" y="1074" width="2" height="52" fill="#26a69a"/>
<rect x="346" y="1110" width="12" height="7" fill="#8c8f9b"/>
<rect x="348" y="1112" width="8" height="3" fill="#26a69a"/>
<rect x="367" y="1073" width="2" height="39" fill="#26a69a"/>
<rect x="362" y="1100" width="12" height="11" fill="#8c8f9b"/>
<rect x="364" y="1102" width="8" height="7" fill="#26a69a"/>
<rect x="383" y="1086" width="2" height="48" fill="#ef5350"/>
<rect x="378" y="1100" width="12" height="5" fill="#ef5350"/>
<rect x="399" y="1093" width="2" height="28" fill="#26a69a"/>
<rect x="394" y="1096" width="12" height="8" fill="#8c8f9b"/>
<rect x="396" y="1098" width="8" height="4" fill="#26a69a"/>
<rect x="415" y="1058" width="2" height="49" fill="#26a69a"/>
<rect x="410" y="1069" width="12" height="28" fill="#8c8f9b"/>
<rect x="412" y="1071" width="8" height="24" fill="#26a69a"/>
<rect x="431" y="1048" width="2" height="36" fill="#26a69a"/>
<rect x="426" y="1062" width="12" height="7" fill="#8c8f9b"/>
<rect x="428" y="1064" width="8" height="3" fill="#26a69a"/>
<rect x="447" y="1058" width="2" height="155" fill="#ef5350"/>
<rect x="442" y="1062" width="12" height="128" fill="#ef5350"/>
<rect x="463" y="1163" width="2" height="43" fill="#ef5350"/>
<rect x="458" y="1188" width="12" height="2" fill="#ef5350"/>
<rect x="479" y="1174" width="2" height="43" fill="#26a69a"/>
<rect x="474" y="1187" width="12" height="5" fill="#8c8f9b"/>
<rect x="476" y="1189" width="8" height="1" fill="#26a69a"/>
<rect x="496" y="1159" width="2" height="41" fill="#26a69a"/>
<rect x="491" y="1166" width="12" height="20" fill="#8c8f9b"/>
<rect x="493" y="1168" width="8" height="16" fill="#26a69a"/>
<rect x="512" y="1156" width="2" height="22" fill="#ef5350"/>
<rect x="507" y="1164" width="12" height="2" fill="#ef5350"/>
<rect x="528" y="1128" width="2" height="55" fill="#ef5350"/>
<rect x="523" y="1166" width="12" height="12" fill="#ef5350"/>
<rect x="544" y="1167" width="2" height="25" fill="#26a69a"/>
<rect x="539" y="1174" width="12" height="3" fill="#8c8f9b"/>
<rect x="560" y="1169" width="2" height="20" fill="#ef5350"/>
<rect x="555" y="1174" width="12" height="7" fill="#ef5350"/>
<rect x="576" y="1163" width="2" height="19" fill="#26a69a"/>
<rect x="571" y="1165" width="12" height="16" fill="#8c8f9b"/>
<rect x="573" y="1167" width="8" height="12" fill="#26a69a"/>
<rect x="592" y="1054" width="2" height="111" fill="#26a69a"/>
<rect x="587" y="1063" width="12" height="102" fill="#8c8f9b"/>
<rect x="589" y="1065" width="8" height="98" fill="#26a69a"/>
<rect x="608" y="1005" width="2" height="70" fill="#26a69a"/>
<rect x="603" y="1020" width="12" height="44" fill="#8c8f9b"/>
<rect x="605" y="1022" width="8" height="40" fill="#26a69a"/>
<rect x="625" y="992" width="2" height="37" fill="#26a69a"/>
<rect x="620" y="997" width="12" height="23" fill="#8c8f9b"/>
<rect x="622" y="999" width="8" height="19" fill="#26a69a"/>
<rect x="641" y="987" width="2" height="37" fill="#ef5350"/>
<rect x="636" y="997" width="12" height="19" fill="#ef5350"/>
<rect x="657" y="1003" width="2" height="46" fill="#ef5350"/>
<rect x="652" y="1015" width="12" height="27" fill="#ef5350"/>
<rect x="673" y="965" width="2" height="86" fill="#26a69a"/>
<rect x="668" y="986" width="12" height="55" fill="#8c8f9b"/>
<rect x="670" y="988" width="8" height="51" fill="#26a69a"/>
<rect x="689" y="965" width="2" height="54" fill="#ef5350"/>
<rect x="684" y="985" width="12" height="17" fill="#ef5350"/>
<rect x="705" y="991" width="2" height="46" fill="#ef5350"/>
<rect x="700" y="1001" width="12" height="26" fill="#ef5350"/>
<rect x="721" y="1022" width="2" height="75" fill="#ef5350"/>
<rect x="716" y="1026" width="12" height="11" fill="#ef5350"/>
<rect x="737" y="905" width="2" height="133" fill="#26a69a"/>
<rect x="732" y="912" width="12" height="124" fill="#8c8f9b"/>
<rect x="734" y="914" width="8" height="120" fill="#26a69a"/>
<rect x="753" y="896" width="2" height="43" fill="#ef5350"/>
<rect x="748" y="911" width="12" height="2" fill="#ef5350"/>
<rect x="770" y="891" width="2" height="49" fill="#26a69a"/>
<rect x="765" y="909" width="12" height="4" fill="#8c8f9b"/>
<rect x="786" y="898" width="2" height="29" fill="#26a69a"/>
<rect x="781" y="906" width="12" height="4" fill="#8c8f9b"/>
<rect x="802" y="859" width="2" height="50" fill="#26a69a"/>
<rect x="797" y="871" width="12" height="35" fill="#8c8f9b"/>
<rect x="799" y="873" width="8" height="31" fill="#26a69a"/>
<rect x="818" y="868" width="2" height="60" fill="#ef5350"/>
<rect x="813" y="871" width="12" height="49" fill="#ef5350"/>
<rect x="834" y="876" width="2" height="56" fill="#26a69a"/>
<rect x="829" y="890" width="12" height="29" fill="#8c8f9b"/>
<rect x="831" y="892" width="8" height="25" fill="#26a69a"/>
<rect x="850" y="879" width="2" height="39" fill="#ef5350"/>
<rect x="845" y="890" width="12" height="15" fill="#ef5350"/>
<rect x="866" y="900" width="2" height="54" fill="#ef5350"/>
<rect x="861" y="904" width="12" height="29" fill="#ef5350"/>
<rect x="882" y="918" width="2" height="25" fill="#ef5350"/>
<rect x="877" y="932" width="12" height="4" fill="#ef5350"/>
<rect x="898" y="907" width="2" height="46" fill="#26a69a"/>
<rect x="893" y="911" width="12" height="24" fill="#8c8f9b"/>
<rect x="895" y="913" width="8" height="20" fill="#26a69a"/>
<rect x="915" y="904" width="2" height="36" fill="#ef5350"/>
<rect x="910" y="911" width="12" height="18" fill="#ef5350"/>
<rect x="931" y="923" width="2" height="40" fill="#ef5350"/>
<rect x="926" y="928" width="12" height="24" fill="#ef5350"/>
<rect x="947" y="934" width="2" height="40" fill="#26a69a"/>
<rect x="942" y="944" width="12" height="7" fill="#8c8f9b"/>
<rect x="944" y="946" width="8" height="3" fill="#26a69a"/>
<rect x="963" y="852" width="2" height="93" fill="#26a69a"/>
<rect x="958" y="868" width="12" height="75" fill="#8c8f9b"/>
<rect x="960" y="870" width="8" height="71" fill="#26a69a"/>
<rect x="979" y="855" width="2" height="30" fill="#26a69a"/>
<rect x="974" y="866" width="12" height="3" fill="#8c8f9b"/>
<rect x="995" y="851" width="2" height="31" fill="#ef5350"/>
<rect x="990" y="866" width="12" height="9" fill="#ef5350"/>
<rect x="1011" y="846" width="2" height="32" fill="#26a69a"/>
<rect x="1006" y="871" width="12" height="2" fill="#8c8f9b"/>
<rect x="1027" y="868" width="2" height="17" fill="#ef5350"/>
<rect x="1022" y="872" width="12" height="4" fill="#ef5350"/>
<rect x="1044" y="875" width="2" height="21" fill="#ef5350"/>
<rect x="1039" y="875" width="12" height="15" fill="#ef5350"/>
<rect x="1060" y="876" width="2" height="25" fill="#ef5350"/>
<rect x="1055" y="889" width="12" height="3" fill="#ef5350"/>
<rect x="1076" y="872" width="2" height="27" fill="#26a69a"/>
<rect x="1071" y="888" width="12" height="4" fill="#8c8f9b"/>
<rect x="1092" y="882" width="2" height="85" fill="#ef5350"/>
<rect x="1087" y="888" width="12" height="59" fill="#ef5350"/>
<rect x="1108" y="934" width="2" height="30" fill="#ef5350"/>
<rect x="1103" y="945" width="12" height="2" fill="#ef5350"/>
<rect x="1124" y="909" width="2" height="54" fill="#ef5350"/>
<rect x="1119" y="948" width="12" height="4" fill="#ef5350"/>
<rect x="1140" y="941" width="2" height="22" fill="#ef5350"/>
<rect x="1135" y="951" width="12" height="2" fill="#ef5350"/>
<rect x="1156" y="933" width="2" height="39" fill="#26a69a"/>
<rect x="1151" y="941" width="12" height="12" fill="#8c8f9b"/>
<rect x="1153" y="943" width="8" height="8" fill="#26a69a"/>
<rect x="1172" y="921" width="2" height="27" fill="#ef5350"/>
<rect x="1167" y="940" width="12" height="6" fill="#ef5350"/>
<rect x="1189" y="911" width="2" height="39" fill="#26a69a"/>
<rect x="1184" y="913" width="12" height="32" fill="#8c8f9b"/>
<rect x="1186" y="915" width="8" height="28" fill="#26a69a"/>
<rect x="1205" y="901" width="2" height="27" fill="#ef5350"/>
<rect x="1200" y="911" width="12" height="2" fill="#ef5350"/>
<rect x="1221" y="912" width="2" height="27" fill="#ef5350"/>
<rect x="1216" y="913" width="12" height="16" fill="#ef5350"/>
<rect x="1237" y="870" width="2" height="60" fill="#26a69a"/>
<rect x="1232" y="877" width="12" height="51" fill="#8c8f9b"/>
<rect x="1234" y="879" width="8" height="47" fill="#26a69a"/>
<rect x="1253" y="793" width="2" height="85" fill="#26a69a"/>
<rect x="1248" y="804" width="12" height="72" fill="#8c8f9b"/>
<rect x="1250" y="806" width="8" height="68" fill="#26a69a"/>
<rect x="1269" y="783" width="2" height="29" fill="#26a69a"/>
<rect x="1264" y="797" width="12" height="8" fill="#8c8f9b"/>
<rect x="1266" y="799" width="8" height="4" fill="#26a69a"/>
<rect x="1285" y="755" width="2" height="49" fill="#26a69a"/>
<rect x="1280" y="768" width="12" height="30" fill="#8c8f9b"/>
<rect x="1282" y="770" width="8" height="26" fill="#26a69a"/>
<rect x="1301" y="755" width="2" height="45" fill="#26a69a"/>
<rect x="1296" y="764" width="12" height="4" fill="#8c8f9b"/>
<rect x="1318" y="749" width="2" height="39" fill="#26a69a"/>
<rect x="1313" y="761" width="12" height="2" fill="#8c8f9b"/>
<rect x="1334" y="725" width="2" height="48" fill="#26a69a"/>
<rect x="1329" y="729" width="12" height="33" fill="#8c8f9b"/>
<rect x="1331" y="731" width="8" height="29" fill="#26a69a"/>
<rect x="1350" y="671" width="2" height="58" fill="#26a69a"/>
<rect x="1345" y="682" width="12" height="47" fill="#8c8f9b"/>
<rect x="1347" y="684" width="8" height="43" fill="#26a69a"/>
<rect x="1366" y="682" width="2" height="43" fill="#ef5350"/>
<rect x="1361" y="682" width="12" height="30" fill="#ef5350"/>
<rect x="1382" y="675" width="2" height="46" fill="#26a69a"/>
<rect x="1377" y="691" width="12" height="21" fill="#8c8f9b"/>
<rect x="1379" y="693" width="8" height="17" fill="#26a69a"/>
<rect x="1398" y="681" width="2" height="31" fill="#ef5350"/>
<rect x="1393" y="691" width="12" height="10" fill="#ef5350"/>
<rect x="1414" y="658" width="2" height="61" fill="#26a69a"/>
<rect x="1409" y="680" width="12" height="20" fill="#8c8f9b"/>
<rect x="1411" y="682" width="8" height="16" fill="#26a69a"/>
<rect x="1430" y="624" width="2" height="85" fill="#ef5350"/>
<rect x="1425" y="680" width="12" height="28" fill="#ef5350"/>
<rect x="1446" y="684" width="2" height="41" fill="#ef5350"/>
<rect x="1441" y="706" width="12" height="2" fill="#ef5350"/>
<rect x="1463" y="693" width="2" height="54" fill="#26a69a"/>
<rect x="1458" y="704" width="12" height="4" fill="#8c8f9b"/>
<rect x="1479" y="681" width="2" height="25" fill="#26a69a"/>
<rect x="1474" y="696" width="12" height="8" fill="#8c8f9b"/>
<rect x="1476" y="698" width="8" height="4" fill="#26a69a"/>
<rect x="1495" y="628" width="2" height="73" fill="#26a69a"/>
<rect x="1490" y="631" width="12" height="65" fill="#8c8f9b"/>
<rect x="1492" y="633" width="8" height="61" fill="#26a69a"/>
<rect x="1511" y="585" width="2" height="53" fill="#26a69a"/>
<rect x="1506" y="593" width="12" height="38" fill="#8c8f9b"/>
<rect x="1508" y="595" width="8" height="34" fill="#26a69a"/>
<rect x="1527" y="584" width="2" height="24" fill="#ef5350"/>
<rect x="1522" y="592" width="12" height="5" fill="#ef5350"/>
<rect x="1543" y="486" width="2" height="118" fill="#26a69a"/>
<rect x="1538" y="495" width="12" height="101" fill="#8c8f9b"/>
<rect x="1540" y="497" width="8" height="97" fill="#26a69a"/>
<rect x="1559" y="440" width="2" height="88" fill="#26a69a"/>
<rect x="1554" y="448" width="12" height="46" fill="#8c8f9b"/>
<rect x="1556" y="450" width="8" height="42" fill="#26a69a"/>
<rect x="1575" y="412" width="2" height="70" fill="#ef5350"/>
<rect x="1570" y="448" width="12" height="5" fill="#ef5350"/>
<rect x="1592" y="448" width="2" height="65" fill="#ef5350"/>
<rect x="1587" y="452" width="12" height="10" fill="#ef5350"/>
<rect x="1608" y="428" width="2" height="40" fill="#26a69a"/>
<rect x="1603" y="431" width="12" height="30" fill="#8c8f9b"/>
<rect x="1605" y="433" width="8" height="26" fill="#26a69a"/>
<rect x="1624" y="431" width="2" height="51" fill="#ef5350"/>
<rect x="1619" y="431" width="12" height="15" fill="#ef5350"/>
<rect x="1640" y="419" width="2" height="95" fill="#ef5350"/>
<rect x="1635" y="445" width="12" height="28" fill="#ef5350"/>
<rect x="1656" y="463" width="2" height="60" fill="#ef5350"/>
<rect x="1651" y="473" width="12" height="7" fill="#ef5350"/>
<rect x="1672" y="461" width="2" height="39" fill="#ef5350"/>
<rect x="1667" y="479" width="12" height="16" fill="#ef5350"/>
<rect x="1688" y="481" width="2" height="68" fill="#26a69a"/>
<rect x="1683" y="487" width="12" height="7" fill="#8c8f9b"/>
<rect x="1685" y="489" width="8" height="3" fill="#26a69a"/>
<rect x="1704" y="475" width="2" height="43" fill="#ef5350"/>
<rect x="1699" y="486" width="12" height="22" fill="#ef5350"/>
<rect x="1720" y="458" width="2" height="55" fill="#26a69a"/>
<rect x="1715" y="468" width="12" height="39" fill="#8c8f9b"/>
<rect x="1717" y="470" width="8" height="35" fill="#26a69a"/>
<rect x="1737" y="425" width="2" height="45" fill="#26a69a"/>
<rect x="1732" y="452" width="12" height="16" fill="#8c8f9b"/>
<rect x="1734" y="454" width="8" height="12" fill="#26a69a"/>
<rect x="1753" y="435" width="2" height="30" fill="#ef5350"/>
<rect x="1748" y="451" width="12" height="7" fill="#ef5350"/>
<rect x="1769" y="425" width="2" height="32" fill="#26a69a"/>
<rect x="1764" y="443" width="12" height="14" fill="#8c8f9b"/>
<rect x="1766" y="445" width="8" height="10" fill="#26a69a"/>
<rect x="1785" y="438" width="2" height="40" fill="#ef5350"/>
<rect x="1780" y="443" width="12" height="23" fill="#ef5350"/>
<rect x="1801" y="461" width="2" height="33" fill="#ef5350"/>
<rect x="1796" y="465" width="12" height="29" fill="#ef5350"/>
<rect x="1817" y="492" width="2" height="42" fill="#ef5350"/>
<rect x="1812" y="493" width="12" height="4" fill="#ef5350"/>
<rect x="1833" y="488" width="2" height="91" fill="#ef5350"/>
<rect x="1828" y="496" width="12" height="61" fill="#ef5350"/>
<rect x="1849" y="508" width="2" height="63" fill="#26a69a"/>
<rect x="1844" y="514" width="12" height="42" fill="#8c8f9b"/>
<rect x="1846" y="516" width="8" height="38" fill="#26a69a"/>
<rect x="1865" y="453" width="2" height="60" fill="#26a69a"/>
<rect x="1860" y="454" width="12" height="59" fill="#8c8f9b"/>
<rect x="1862" y="456" width="8" height="55" fill="#26a69a"/>
<rect x="1882" y="445" width="2" height="46" fill="#26a69a"/>
<rect x="1877" y="452" width="12" height="2" fill="#8c8f9b"/>
<rect x="1898" y="440" width="2" height="105" fill="#ef5350"/>
<rect x="1893" y="453" width="12" height="84" fill="#ef5350"/>
<rect x="1914" y="497" width="2" height="127" fill="#26a69a"/>
<rect x="1909" y="531" width="12" height="6" fill="#8c8f9b"/>
<rect x="1911" y="533" width="8" height="2" fill="#26a69a"/>
<rect x="1930" y="504" width="2" height="50" fill="#ef5350"/>
<rect x="1925" y="531" width="12" height="3" fill="#ef5350"/>
<rect x="1946" y="478" width="2" height="61" fill="#26a69a"/>
<rect x="1941" y="485" width="12" height="48" fill="#8c8f9b"/>
<rect x="1943" y="487" width="8" height="44" fill="#26a69a"/>
<rect x="1962" y="483" width="2" height="61" fill="#ef5350"/>
<rect x="1957" y="485" width="12" height="59" fill="#ef5350"/>
<rect x="1978" y="521" width="2" height="67" fill="#ef5350"/>
<rect x="1973" y="543" width="12" height="24" fill="#ef5350"/>
<rect x="1994" y="514" width="2" height="54" fill="#26a69a"/>
<rect x="1989" y="528" width="12" height="38" fill="#8c8f9b"/>
<rect x="1991" y="530" width="8" height="34" fill="#26a69a"/>
<rect x="2011" y="485" width="2" height="57" fill="#26a69a"/>
<rect x="2006" y="491" width="12" height="36" fill="#8c8f9b"/>
<rect x="2008" y="493" width="8" height="32" fill="#26a69a"/>
<rect x="2027" y="467" width="2" height="31" fill="#26a69a"/>
<rect x="2022" y="475" width="12" height="16" fill="#8c8f9b"/>
<rect x="2024" y="477" width="8" height="12" fill="#26a69a"/>
<rect x="2043" y="474" width="2" height="47" fill="#ef5350"/>
<rect x="2038" y="474" width="12" height="23" fill="#ef5350"/>
<rect x="2059" y="483" width="2" height="46" fill="#26a69a"/>
<rect x="2054" y="495" width="12" height="2" fill="#8c8f9b"/>
<rect x="2075" y="445" width="2" height="54" fill="#26a69a"/>
<rect x="2070" y="449" width="12" height="47" fill="#8c8f9b"/>
<rect x="2072" y="451" width="8" height="43" fill="#26a69a"/>
<rect x="2091" y="444" width="2" height="32" fill="#ef5350"/>
<rect x="2086" y="448" width="12" height="8" fill="#ef5350"/>
<rect x="2107" y="414" width="2" height="45" fill="#26a69a"/>
<rect x="2102" y="449" width="12" height="7" fill="#8c8f9b"/>
<rect x="2104" y="451" width="8" height="3" fill="#26a69a"/>
<rect x="2123" y="362" width="2" height="102" fill="#26a69a"/>
<rect x="2118" y="370" width="12" height="79" fill="#8c8f9b"/>
<rect x="2120" y="372" width="8" height="75" fill="#26a69a"/>
<rect x="2139" y="293" width="2" height="77" fill="#26a69a"/>
<rect x="2134" y="312" width="12" height="58" fill="#8c8f9b"/>
<rect x="2136" y="314" width="8" height="54" fill="#26a69a"/>
<rect x="2156" y="259" width="2" height="56" fill="#26a69a"/>
<rect x="2151" y="268" width="12" height="45" fill="#8c8f9b"/>
<rect x="2153" y="270" width="8" height="41" fill="#26a69a"/>
<rect x="2172" y="263" width="2" height="44" fill="#ef5350"/>
<rect x="2167" y="268" width="12" height="5" fill="#ef5350"/>
<rect x="2188" y="236" width="2" height="72" fill="#26a69a"/>
<rect x="2183" y="251" width="12" height="21" fill="#8c8f9b"/>
<rect x="2185" y="253" width="8" height="17" fill="#26a69a"/>
<rect x="2204" y="230" width="2" height="58" fill="#26a69a"/>
<rect x="2199" y="234" width="12" height="18" fill="#8c8f9b"/>
<rect x="2201" y="236" width="8" height="14" fill="#26a69a"/>
<rect x="2220" y="216" width="2" height="82" fill="#ef5350"/>
<rect x="2215" y="234" width="12" height="49" fill="#ef5350"/>
<rect x="2236" y="257" width="2" height="40" fill="#ef5350"/>
<rect x="2231" y="282" width="12" height="9" fill="#ef5350"/>
<rect x="2252" y="262" width="2" height="40" fill="#26a69a"/>
<rect x="2247" y="265" width="12" height="25" fill="#8c8f9b"/>
<rect x="2249" y="267" width="8" height="21" fill="#26a69a"/>
<rect x="2268" y="243" width="2" height="61" fill="#ef5350"/>
<rect x="2263" y="265" width="12" height="22" fill="#ef5350"/>
<rect x="2285" y="225" width="2" height="90" fill="#26a69a"/>
<rect x="2280" y="250" width="12" height="36" fill="#8c8f9b"/>
<rect x="2282" y="252" width="8" height="32" fill="#26a69a"/>
<rect x="2301" y="210" width="2" height="49" fill="#26a69a"/>
<rect x="2296" y="244" width="12" height="6" fill="#8c8f9b"/>
<rect x="2298" y="246" width="8" height="2" fill="#26a69a"/>
<rect x="2317" y="225" width="2" height="52" fill="#ef5350"/>
<rect x="2312" y="244" width="12" height="26" fill="#ef5350"/>
<rect x="2333" y="244" width="2" height="60" fill="#ef5350"/>
<rect x="2328" y="269" width="12" height="7" fill="#ef5350"/>
<rect x="2349" y="263" width="2" height="25" fill="#ef5350"/>
<rect x="2344" y="274" width="12" height="2" fill="#ef5350"/>
<rect x="2365" y="260" width="2" height="32" fill="#26a69a"/>
<rect x="2360" y="275" width="12" height="2" fill="#8c8f9b"/>
<rect x="2381" y="275" width="2" height="108" fill="#ef5350"/>
<rect x="2376" y="276" width="12" height="12" fill="#ef5350"/>
<rect x="2397" y="285" width="2" height="87" fill="#ef5350"/>
<rect x="2392" y="287" width="12" height="81" fill="#ef5350"/>
<rect x="2413" y="339" width="2" height="55" fill="#26a69a"/>
<rect x="2408" y="355" width="12" height="13" fill="#8c8f9b"/>
<rect x="2410" y="357" width="8" height="9" fill="#26a69a"/>
<rect x="2430" y="326" width="2" height="38" fill="#26a69a"/>
<rect x="2425" y="334" width="12" height="21" fill="#8c8f9b"/>
<rect x="2427" y="336" width="8" height="17" fill="#26a69a"/>
<rect x="2446" y="318" width="2" height="44" fill="#ef5350"/>
<rect x="2441" y="334" width="12" height="23" fill="#ef5350"/>
<rect x="2462" y="320" width="2" height="70" fill="#ef5350"/>
<rect x="2457" y="356" width="12" height="27" fill="#ef5350"/>
<rect x="2478" y="334" width="2" height="73" fill="#26a69a"/>
<rect x="2473" y="348" width="12" height="35" fill="#8c8f9b"/>
<rect x="2475" y="350" width="8" height="31" fill="#26a69a"/>
<rect x="2494" y="331" width="2" height="21" fill="#26a69a"/>
<rect x="2489" y="339" width="12" height="10" fill="#8c8f9b"/>
<rect x="2491" y="341" width="8" height="6" fill="#26a69a"/>
<rect x="2510" y="279" width="2" height="61" fill="#26a69a"/>
<rect x="2505" y="290" width="12" height="50" fill="#8c8f9b"/>
<rect x="2507" y="292" width="8" height="46" fill="#26a69a"/>
<rect x="2526" y="268" width="2" height="28" fill="#26a69a"/>
<rect x="2521" y="287" width="12" height="4" fill="#8c8f9b"/>
<rect x="2542" y="232" width="2" height="59" fill="#26a69a"/>
<rect x="2537" y="236" width="12" height="52" fill="#8c8f9b"/>
<rect x="2539" y="238" width="8" height="48" fill="#26a69a"/>
<rect x="2558" y="223" width="2" height="30" fill="#26a69a"/>
<rect x="2553" y="225" width="12" height="11" fill="#8c8f9b"/>
<rect x="2555" y="227" width="8" height="7" fill="#26a69a"/>
<rect x="2575" y="199" width="2" height="48" fill="#26a69a"/>
<rect x="2570" y="212" width="12" height="14" fill="#8c8f9b"/>
<rect x="2572" y="214" width="8" height="10" fill="#26a69a"/>
<rect x="2591" y="204" width="2" height="37" fill="#ef5350"/>
<rect x="2586" y="212" width="12" height="18" fill="#ef5350"/>
<rect x="2607" y="223" width="2" height="32" fill="#26a69a"/>
<rect x="2602" y="227" width="12" height="2" fill="#8c8f9b"/>
<rect x="2623" y="205" width="2" height="38" fill="#ef5350"/>
<rect x="2618" y="227" width="12" height="2" fill="#ef5350"/>
<rect x="2639" y="213" width="2" height="52" fill="#ef5350"/>
<rect x="2634" y="229" width="12" height="24" fill="#ef5350"/>
<rect x="2655" y="215" width="2" height="44" fill="#26a69a"/>
<rect x="2650" y="216" width="12" height="37" fill="#8c8f9b"/>
<rect x="2652" y="218" width="8" height="33" fill="#26a69a"/>
<rect x="2671" y="205" width="2" height="26" fill="#26a69a"/>
<rect x="2666" y="213" width="12" height="4" fill="#8c8f9b"/>
<rect x="2687" y="165" width="2" height="55" fill="#26a69a"/>
<rect x="2682" y="167" width="12" height="45" fill="#8c8f9b"/>
<rect x="2684" y="169" width="8" height="41" fill="#26a69a"/>
<rect x="2704" y="149" width="2" height="33" fill="#ef5350"/>
<rect x="2699" y="167" width="12" height="9" fill="#ef5350"/>
<rect x="2720" y="162" width="2" height="24" fill="#26a69a"/>
<rect x="2715" y="166" width="12" height="10" fill="#8c8f9b"/>
<rect x="2717" y="168" width="8" height="6" fill="#26a69a"/>
<rect x="2736" y="164" width="2" height="35" fill="#ef5350"/>
<rect x="2731" y="166" width="12" height="22" fill="#ef5350"/>
<rect x="2752" y="166" width="2" height="30" fill="#26a69a"/>
<rect x="2747" y="167" width="12" height="21" fill="#8c8f9b"/>
<rect x="2749" y="169" width="8" height="17" fill="#26a69a"/>
<rect x="2768" y="144" width="2" height="33" fill="#ef5350"/>
<rect x="2763" y="166" width="12" height="9" fill="#ef5350"/>
<rect x="2784" y="174" width="2" height="31" fill="#ef5350"/>
<rect x="2779" y="174" width="12" height="19" fill="#ef5350"/>
<rect x="2800" y="191" width="2" height="29" fill="#ef5350"/>
<rect x="2795" y="192" width="12" height="26" fill="#ef5350"/>
<rect x="2816" y="192" width="2" height="29" fill="#26a69a"/>
<rect x="2811" y="202" width="12" height="15" fill="#8c8f9b"/>
<rect x="2813" y="204" width="8" height="11" fill="#26a69a"/>
<rect x="2832" y="177" width="2" height="28" fill="#26a69a"/>
<rect x="2827" y="184" width="12" height="19" fill="#8c8f9b"/>
<rect x="2829" y="186" width="8" height="15" fill="#26a69a"/>
<rect x="2849" y="172" width="2" height="17" fill="#ef5350"/>
<rect x="2844" y="183" width="12" height="2" fill="#ef5350"/>
<rect x="2865" y="183" width="2" height="30" fill="#ef5350"/>
<rect x="2860" y="184" width="12" height="15" fill="#ef5350"/>
<rect x="2881" y="139" width="2" height="62" fill="#26a69a"/>
<rect x="2876" y="149" width="12" height="49" fill="#8c8f9b"/>
<rect x="2878" y="151" width="8" height="45" fill="#26a69a"/>
<rect x="2897" y="137" width="2" height="110" fill="#ef5350"/>
<rect x="2892" y="148" width="12" height="38" fill="#ef5350"/>
<rect x="2913" y="181" width="2" height="58" fill="#ef5350"/>
<rect x="2908" y="185" width="12" height="30" fill="#ef5350"/>
<rect x="2929" y="183" width="2" height="41" fill="#26a69a"/>
<rect x="2924" y="188" width="12" height="26" fill="#8c8f9b"/>
<rect x="2926" y="190" width="8" height="22" fill="#26a69a"/>
<rect x="2945" y="179" width="2" height="46" fill="#ef5350"/>
<rect x="2940" y="187" width="12" height="19" fill="#ef5350"/>
<rect x="2961" y="203" width="2" height="59" fill="#ef5350"/>
<rect x="2956" y="205" width="12" height="29" fill="#ef5350"/>
<rect x="2978" y="220" width="2" height="75" fill="#ef5350"/>
<rect x="2973" y="233" width="12" height="55" fill="#ef5350"/>
<rect x="2994" y="278" width="2" height="90" fill="#ef5350"/>
<rect x="2989" y="287" width="12" height="43" fill="#ef5350"/>
<rect x="3010" y="294" width="2" height="45" fill="#26a69a"/>
<rect x="3005" y="309" width="12" height="21" fill="#8c8f9b"/>
<rect x="3007" y="311" width="8" height="17" fill="#26a69a"/>
<rect x="3026" y="289" width="2" height="59" fill="#26a69a"/>
<rect x="3021" y="295" width="12" height="15" fill="#8c8f9b"/>
<rect x="3023" y="297" width="8" height="11" fill="#26a69a"/>
</g>
<line x1="25" y1="295" x2="3424" y2="295" stroke="#26a69a" stroke-width="2" stroke-dasharray="2 4"/>
<text x="3078.78" y="147.3" font-size="30.9" fill="#787b86" stroke="#787b86" stroke-width="0.45" textLength="16.28" lengthAdjust="spacingAndGlyphs">0</text>
<text x="3104.8" y="147.3" font-size="30.9" fill="#787b86" stroke="#787b86" stroke-width="0.45" textLength="170.39" lengthAdjust="spacingAndGlyphs">(126,199.00)</text>
<text x="3078.76" y="199.3" font-size="30.9" fill="#f23645" stroke="#f23645" stroke-width="0.45" textLength="74.4" lengthAdjust="spacingAndGlyphs">0.236</text>
<text x="3163.78" y="199.3" font-size="30.9" fill="#f23645" stroke="#f23645" stroke-width="0.45" textLength="169.95" lengthAdjust="spacingAndGlyphs">(114,017.47)</text>
<text x="3078.76" y="234.3" font-size="30.9" fill="#ff9800" stroke="#ff9800" stroke-width="0.45" textLength="74.56" lengthAdjust="spacingAndGlyphs">0.382</text>
<text x="3163.8" y="234.3" font-size="30.9" fill="#ff9800" stroke="#ff9800" stroke-width="0.45" textLength="169.88" lengthAdjust="spacingAndGlyphs">(106,481.45)</text>
<text x="3078.72" y="265.3" font-size="30.9" fill="#4caf50" stroke="#4caf50" stroke-width="0.45" textLength="43.03" lengthAdjust="spacingAndGlyphs">0.5</text>
<text x="3131.6" y="265.3" font-size="30.9" fill="#4caf50" stroke="#4caf50" stroke-width="0.45" textLength="170.59" lengthAdjust="spacingAndGlyphs">(100,390.68)</text>
<text x="3078.76" y="297.3" font-size="30.9" fill="#089981" stroke="#089981" stroke-width="0.45" textLength="74.4" lengthAdjust="spacingAndGlyphs">0.618</text>
<text x="3163.82" y="297.3" font-size="30.9" fill="#089981" stroke="#089981" stroke-width="0.45" textLength="125.44" lengthAdjust="spacingAndGlyphs">(94,299.9</text>
<text x="3078.76" y="347.3" font-size="30.9" fill="#00bcd4" stroke="#00bcd4" stroke-width="0.45" textLength="74.4" lengthAdjust="spacingAndGlyphs">0.786</text>
<text x="3163.79" y="347.3" font-size="30.9" fill="#00bcd4" stroke="#00bcd4" stroke-width="0.45" textLength="154.42" lengthAdjust="spacingAndGlyphs">(85,628.33)</text>
<text x="3079.28" y="418.3" font-size="30.9" fill="#787b86" stroke="#787b86" stroke-width="0.45" textLength="12.79" lengthAdjust="spacingAndGlyphs">1</text>
<text x="3103.76" y="418.3" font-size="30.9" fill="#787b86" stroke="#787b86" stroke-width="0.45" textLength="156.47" lengthAdjust="spacingAndGlyphs">(74,582.37)</text>
<text x="3078.77" y="525.3" font-size="30.9" fill="#ff9800" stroke="#ff9800" stroke-width="0.45" textLength="74.55" lengthAdjust="spacingAndGlyphs">1.272</text>
<text x="3163.79" y="525.3" font-size="30.9" fill="#ff9800" stroke="#ff9800" stroke-width="0.45" textLength="154.42" lengthAdjust="spacingAndGlyphs">(60,542.64)</text>
<text x="3078.78" y="591.3" font-size="30.9" fill="#f23645" stroke="#f23645" stroke-width="0.45" textLength="73.93" lengthAdjust="spacingAndGlyphs">1.414</text>
<text x="3163.79" y="591.3" font-size="30.9" fill="#f23645" stroke="#f23645" stroke-width="0.45" textLength="154.42" lengthAdjust="spacingAndGlyphs">(53,213.08)</text>
<text x="3078.77" y="705.3" font-size="30.9" fill="#2962ff" stroke="#2962ff" stroke-width="0.45" textLength="74.39" lengthAdjust="spacingAndGlyphs">1.618</text>
<text x="3163.79" y="705.3" font-size="30.9" fill="#2962ff" stroke="#2962ff" stroke-width="0.45" textLength="154.42" lengthAdjust="spacingAndGlyphs">(42,683.29)</text>
<text x="43.43" y="116" font-size="30.9" fill="#4a4a4a" stroke="#4a4a4a" stroke-width="0.45" textLength="96.34" lengthAdjust="spacingAndGlyphs">Bitcoin</text>
<text x="151.7" y="116" font-size="30.9" fill="#4a4a4a" stroke="#4a4a4a" stroke-width="0.45" textLength="6.35" lengthAdjust="spacingAndGlyphs">/</text>
<text x="172.02" y="116" font-size="30.9" fill="#4a4a4a" stroke="#4a4a4a" stroke-width="0.45" textLength="121.25" lengthAdjust="spacingAndGlyphs">TetherUS</text>
<circle cx="307.3" cy="107.1" r="2.2" fill="#4a4a4a"/>
<text x="322" y="116" font-size="30.9" fill="#4a4a4a" stroke="#4a4a4a" stroke-width="0.45" textLength="40.04" lengthAdjust="spacingAndGlyphs">1W</text>
<circle cx="378.6" cy="107.1" r="2.2" fill="#4a4a4a"/>
<text x="391.52" y="116" font-size="30.9" fill="#4a4a4a" stroke="#4a4a4a" stroke-width="0.45" textLength="107.43" lengthAdjust="spacingAndGlyphs">Binance</text>
<text x="516.36" y="116" font-size="30.9" fill="#4a4a4a" stroke="#4a4a4a" stroke-width="0.45" textLength="21.46" lengthAdjust="spacingAndGlyphs">O</text>
<text x="539.6" y="116" font-size="30.9" fill="#9598a1" stroke="#9598a1" stroke-width="0.45" textLength="128.67" lengthAdjust="spacingAndGlyphs">90,360.01</text>
<text x="687.86" y="116" font-size="30.9" fill="#4a4a4a" stroke="#4a4a4a" stroke-width="0.45" textLength="20.25" lengthAdjust="spacingAndGlyphs">H</text>
<text x="709.67" y="116" font-size="30.9" fill="#9598a1" stroke="#9598a1" stroke-width="0.45" textLength="131.07" lengthAdjust="spacingAndGlyphs">93,958.58</text>
<text x="858.5" y="116" font-size="30.9" fill="#4a4a4a" stroke="#4a4a4a" stroke-width="0.45" textLength="16" lengthAdjust="spacingAndGlyphs">L</text>
<text x="874.51" y="116" font-size="30.9" fill="#9598a1" stroke="#9598a1" stroke-width="0.45" textLength="132.35" lengthAdjust="spacingAndGlyphs">83,822.76</text>
<text x="1024.76" y="116" font-size="30.9" fill="#4a4a4a" stroke="#4a4a4a" stroke-width="0.45" textLength="17.97" lengthAdjust="spacingAndGlyphs">C</text>
<text x="1042.75" y="116" font-size="30.9" fill="#9598a1" stroke="#9598a1" stroke-width="0.45" textLength="133.36" lengthAdjust="spacingAndGlyphs">92,862.99</text>
<text x="1194.67" y="116" font-size="30.9" fill="#9598a1" stroke="#9598a1" stroke-width="0.45" textLength="132.51" lengthAdjust="spacingAndGlyphs">+2,502.99</text>
<text x="1337.23" y="116" font-size="30.9" fill="#9598a1" stroke="#9598a1" stroke-width="0.45" textLength="113.72" lengthAdjust="spacingAndGlyphs">(+2.77%)</text>
<text x="45.86" y="158" font-size="30.9" fill="#4a4a4a" stroke="#4a4a4a" stroke-width="0.45" textLength="39.92" lengthAdjust="spacingAndGlyphs">Vol</text>
<circle cx="99.7" cy="149.1" r="2.2" fill="#4a4a4a"/>
<text x="114.39" y="158" font-size="30.9" fill="#4a4a4a" stroke="#4a4a4a" stroke-width="0.45" textLength="52.73" lengthAdjust="spacingAndGlyphs">BTC</text>
<text x="185.12" y="158" font-size="30.9" fill="#26a69a" stroke="#26a69a" stroke-width="0.45" textLength="73.98" lengthAdjust="spacingAndGlyphs">72.02</text>
<text x="265.07" y="158" font-size="30.9" fill="#26a69a" stroke="#26a69a" stroke-width="0.45" textLength="18.56" lengthAdjust="spacingAndGlyphs">K</text>
<text x="43.93" y="199.8" font-size="30.9" fill="#4a4a4a" stroke="#4a4a4a" stroke-width="0.45" textLength="56.02" lengthAdjust="spacingAndGlyphs">EMA</text>
<text x="108.49" y="199.8" font-size="30.9" fill="#4a4a4a" stroke="#4a4a4a" stroke-width="0.45" textLength="206.45" lengthAdjust="spacingAndGlyphs">20/50/100/200</text>
<text x="331.95" y="199.8" font-size="30.9" fill="#ff0000" stroke="#ff0000" stroke-width="0.45" textLength="150" lengthAdjust="spacingAndGlyphs">104,287.32</text>
<text x="499.65" y="199.8" font-size="30.9" fill="#ff8000" stroke="#ff8000" stroke-width="0.45" textLength="133.06" lengthAdjust="spacingAndGlyphs">99,552.54</text>
<text x="650.9" y="199.8" font-size="30.9" fill="#00ffff" stroke="#00ffff" stroke-width="0.45" textLength="133.01" lengthAdjust="spacingAndGlyphs">85,723.39</text>
<text x="801.6" y="199.8" font-size="30.9" fill="#0000ff" stroke="#0000ff" stroke-width="0.45" textLength="133.57" lengthAdjust="spacingAndGlyphs">66,396.28</text>
<rect x="26" y="1348" width="3397" height="86.9" fill="#7e57c2" fill-opacity="0.1"/>
<line x1="25.3" y1="1348" x2="3423" y2="1348" stroke="#6f7281" stroke-width="2" stroke-dasharray="10 12"/>
<line x1="25.3" y1="1391.9" x2="3423" y2="1391.9" stroke="#787b86" stroke-width="2" stroke-dasharray="10 12" stroke-opacity="0.55"/>
<line x1="25.3" y1="1434.9" x2="3423" y2="1434.9" stroke="#6f7281" stroke-width="2" stroke-dasharray="10 12"/>
<clipPath id="cpOB"><rect x="25" y="1200" width="3399" height="148"/></clipPath>
<clipPath id="cpOS"><rect x="25" y="1434.9" width="3399" height="21.1"/></clipPath>
<g clip-path="url(#cpOB)"><path d="M13.08,1348 L13.08,1420.02 L29.2,1422.52 L45.32,1425.55 L61.43,1427.67 L77.55,1425.25 L93.67,1433.12 L109.78,1444.02 L125.9,1441.6 L142.02,1444.63 L158.13,1437.06 L174.25,1437.66 L190.36,1428.58 L206.48,1424.95 L222.6,1424.95 L238.71,1418.59 L254.83,1427.07 L270.95,1432.52 L287.06,1430.7 L303.18,1419.19 L319.3,1427.07 L335.41,1429.19 L351.53,1427.67 L367.65,1424.95 L383.76,1425.25 L399.88,1423.13 L416,1415.56 L432.11,1413.44 L448.23,1432.21 L464.35,1432.52 L480.46,1431.3 L496.58,1425.86 L512.69,1425.86 L528.81,1427.07 L544.93,1426.76 L561.04,1427.37 L577.16,1422.83 L593.28,1390.13 L609.39,1378.63 L625.51,1372.27 L641.63,1378.63 L657.74,1387.71 L673.86,1372.57 L689.98,1377.72 L706.09,1385.89 L722.21,1389.52 L738.33,1358.64 L754.44,1358.64 L770.56,1357.74 L786.68,1357.43 L802.79,1349.26 L818.91,1369.85 L835.02,1362.88 L851.14,1368.94 L867.26,1379.23 L883.37,1380.74 L899.49,1372.87 L915.61,1380.74 L931.72,1388.31 L947.84,1385.59 L963.96,1364.09 L980.07,1363.18 L996.19,1366.82 L1012.31,1366.21 L1028.42,1367.42 L1044.54,1374.69 L1060.66,1376.51 L1076.77,1375.6 L1092.89,1400.12 L1109.01,1400.73 L1125.12,1401.94 L1141.24,1403.15 L1157.36,1396.19 L1173.47,1398.91 L1189.59,1382.56 L1205.7,1383.47 L1221.82,1391.34 L1237.94,1368.03 L1254.05,1346.53 L1270.17,1344.11 L1286.29,1337.15 L1302.4,1336.24 L1318.52,1336.24 L1334.64,1328.37 L1350.75,1319.29 L1366.87,1340.18 L1382.99,1335.63 L1399.1,1341.39 L1415.22,1336.85 L1431.34,1354.1 L1447.45,1355.31 L1463.57,1353.19 L1479.68,1351.38 L1495.8,1333.21 L1511.92,1325.04 L1528.03,1328.67 L1544.15,1312.62 L1560.27,1307.48 L1576.38,1311.11 L1592.5,1317.47 L1608.62,1313.53 L1624.73,1323.83 L1640.85,1342.29 L1656.97,1345.93 L1673.08,1354.41 L1689.2,1352.59 L1705.32,1364.4 L1721.43,1353.19 L1737.55,1348.05 L1753.67,1351.68 L1769.78,1347.74 L1785.9,1362.28 L1802.01,1375.6 L1818.13,1377.41 L1834.25,1400.73 L1850.36,1384.68 L1866.48,1368.33 L1882.6,1368.33 L1898.71,1395.88 L1914.83,1394.67 L1930.95,1395.28 L1947.06,1381.05 L1963.18,1397.7 L1979.3,1403.45 L1995.41,1392.25 L2011.53,1382.86 L2027.65,1378.63 L2043.76,1385.29 L2059.88,1384.98 L2076,1371.96 L2092.11,1374.69 L2108.23,1373.18 L2124.34,1352.89 L2140.46,1340.18 L2156.58,1332.91 L2172.69,1335.03 L2188.81,1331.4 L2204.93,1328.67 L2221.04,1354.71 L2237.16,1358.04 L2253.28,1352.29 L2269.39,1361.97 L2285.51,1353.19 L2301.63,1351.68 L2317.74,1364.09 L2333.86,1367.12 L2349.98,1368.03 L2366.09,1367.73 L2382.21,1373.18 L2398.33,1403.45 L2414.44,1399.82 L2430.56,1391.95 L2446.67,1399.21 L2462.79,1406.78 L2478.91,1394.67 L2495.02,1391.64 L2511.14,1375.6 L2527.26,1374.69 L2543.37,1359.55 L2559.49,1356.52 L2575.61,1353.5 L2591.72,1361.97 L2607.84,1361.97 L2623.96,1362.58 L2640.07,1374.69 L2656.19,1362.58 L2672.31,1361.37 L2688.42,1347.44 L2704.54,1352.29 L2720.66,1349.56 L2736.77,1364.09 L2752.89,1356.52 L2769,1362.58 L2785.12,1371.96 L2801.24,1383.77 L2817.35,1379.23 L2833.47,1371.66 L2849.59,1371.66 L2865.7,1379.53 L2881.82,1360.46 L2897.94,1379.53 L2914.05,1391.64 L2930.17,1381.65 L2946.29,1389.83 L2962.4,1398.91 L2978.52,1414.05 L2994.64,1422.52 L3010.75,1415.56 L3026.87,1410.72 L3026.87,1348 Z" fill="url(#obg)"/></g>
<linearGradient id="obg" gradientUnits="userSpaceOnUse" x1="0" y1="1282.53" x2="0" y2="1348"><stop offset="0" stop-color="#4caf50" stop-opacity="0.9"/><stop offset="1" stop-color="#4caf50" stop-opacity="0"/></linearGradient>
<linearGradient id="osg" gradientUnits="userSpaceOnUse" x1="0" y1="1434.9" x2="0" y2="1499.78"><stop offset="0" stop-color="#ff5252" stop-opacity="0"/><stop offset="1" stop-color="#ff5252" stop-opacity="1"/></linearGradient>
<g clip-path="url(#cpOS)"><path d="M13.08,1434.9 L13.08,1420.02 L29.2,1422.52 L45.32,1425.55 L61.43,1427.67 L77.55,1425.25 L93.67,1433.12 L109.78,1444.02 L125.9,1441.6 L142.02,1444.63 L158.13,1437.06 L174.25,1437.66 L190.36,1428.58 L206.48,1424.95 L222.6,1424.95 L238.71,1418.59 L254.83,1427.07 L270.95,1432.52 L287.06,1430.7 L303.18,1419.19 L319.3,1427.07 L335.41,1429.19 L351.53,1427.67 L367.65,1424.95 L383.76,1425.25 L399.88,1423.13 L416,1415.56 L432.11,1413.44 L448.23,1432.21 L464.35,1432.52 L480.46,1431.3 L496.58,1425.86 L512.69,1425.86 L528.81,1427.07 L544.93,1426.76 L561.04,1427.37 L577.16,1422.83 L593.28,1390.13 L609.39,1378.63 L625.51,1372.27 L641.63,1378.63 L657.74,1387.71 L673.86,1372.57 L689.98,1377.72 L706.09,1385.89 L722.21,1389.52 L738.33,1358.64 L754.44,1358.64 L770.56,1357.74 L786.68,1357.43 L802.79,1349.26 L818.91,1369.85 L835.02,1362.88 L851.14,1368.94 L867.26,1379.23 L883.37,1380.74 L899.49,1372.87 L915.61,1380.74 L931.72,1388.31 L947.84,1385.59 L963.96,1364.09 L980.07,1363.18 L996.19,1366.82 L1012.31,1366.21 L1028.42,1367.42 L1044.54,1374.69 L1060.66,1376.51 L1076.77,1375.6 L1092.89,1400.12 L1109.01,1400.73 L1125.12,1401.94 L1141.24,1403.15 L1157.36,1396.19 L1173.47,1398.91 L1189.59,1382.56 L1205.7,1383.47 L1221.82,1391.34 L1237.94,1368.03 L1254.05,1346.53 L1270.17,1344.11 L1286.29,1337.15 L1302.4,1336.24 L1318.52,1336.24 L1334.64,1328.37 L1350.75,1319.29 L1366.87,1340.18 L1382.99,1335.63 L1399.1,1341.39 L1415.22,1336.85 L1431.34,1354.1 L1447.45,1355.31 L1463.57,1353.19 L1479.68,1351.38 L1495.8,1333.21 L1511.92,1325.04 L1528.03,1328.67 L1544.15,1312.62 L1560.27,1307.48 L1576.38,1311.11 L1592.5,1317.47 L1608.62,1313.53 L1624.73,1323.83 L1640.85,1342.29 L1656.97,1345.93 L1673.08,1354.41 L1689.2,1352.59 L1705.32,1364.4 L1721.43,1353.19 L1737.55,1348.05 L1753.67,1351.68 L1769.78,1347.74 L1785.9,1362.28 L1802.01,1375.6 L1818.13,1377.41 L1834.25,1400.73 L1850.36,1384.68 L1866.48,1368.33 L1882.6,1368.33 L1898.71,1395.88 L1914.83,1394.67 L1930.95,1395.28 L1947.06,1381.05 L1963.18,1397.7 L1979.3,1403.45 L1995.41,1392.25 L2011.53,1382.86 L2027.65,1378.63 L2043.76,1385.29 L2059.88,1384.98 L2076,1371.96 L2092.11,1374.69 L2108.23,1373.18 L2124.34,1352.89 L2140.46,1340.18 L2156.58,1332.91 L2172.69,1335.03 L2188.81,1331.4 L2204.93,1328.67 L2221.04,1354.71 L2237.16,1358.04 L2253.28,1352.29 L2269.39,1361.97 L2285.51,1353.19 L2301.63,1351.68 L2317.74,1364.09 L2333.86,1367.12 L2349.98,1368.03 L2366.09,1367.73 L2382.21,1373.18 L2398.33,1403.45 L2414.44,1399.82 L2430.56,1391.95 L2446.67,1399.21 L2462.79,1406.78 L2478.91,1394.67 L2495.02,1391.64 L2511.14,1375.6 L2527.26,1374.69 L2543.37,1359.55 L2559.49,1356.52 L2575.61,1353.5 L2591.72,1361.97 L2607.84,1361.97 L2623.96,1362.58 L2640.07,1374.69 L2656.19,1362.58 L2672.31,1361.37 L2688.42,1347.44 L2704.54,1352.29 L2720.66,1349.56 L2736.77,1364.09 L2752.89,1356.52 L2769,1362.58 L2785.12,1371.96 L2801.24,1383.77 L2817.35,1379.23 L2833.47,1371.66 L2849.59,1371.66 L2865.7,1379.53 L2881.82,1360.46 L2897.94,1379.53 L2914.05,1391.64 L2930.17,1381.65 L2946.29,1389.83 L2962.4,1398.91 L2978.52,1414.05 L2994.64,1422.52 L3010.75,1415.56 L3026.87,1410.72 L3026.87,1434.9 Z" fill="url(#osg)"/></g>
<g clip-path="url(#cpAll)">
<polyline points="25.43,1404.97 44.81,1407.39 61.16,1408.3 77.2,1409.51 93.25,1411.02 109.29,1413.44 125.64,1416.47 141.69,1420.1 157.74,1424.04 173.78,1426.46 190.13,1428.58 206.18,1430.09 222.22,1431.3 238.27,1431.61 254.62,1431.91 270.66,1432.21 286.71,1432.21 302.76,1432.21 319.1,1431.61 335.15,1430.4 351.2,1429.19 367.24,1427.67 383.59,1426.76 399.64,1425.86 415.68,1424.95 431.73,1424.34 448.08,1424.64 464.12,1425.55 480.17,1425.86 496.22,1425.55 512.56,1425.55 528.61,1425.55 544.66,1425.55 560.7,1425.55 577.05,1425.55 593.1,1423.13 609.14,1419.5 625.15,1416.17 641.5,1413.44 657.54,1411.32 673.59,1407.39 689.63,1403.45 705.98,1399.82 722.03,1397.4 738.07,1392.55 754.12,1387.71 770.47,1382.56 786.52,1378.02 802.56,1372.57 818.61,1371.36 834.96,1370.15 851,1369.85 867.05,1369.54 883.09,1369.24 899.14,1369.24 915.49,1369.54 931.53,1369.54 947.58,1369.54 963.63,1369.54 979.98,1370.15 996.02,1371.06 1012.07,1371.36 1028.11,1372.57 1044.46,1373.48 1060.51,1374.08 1076.55,1374.69 1092.6,1376.2 1108.95,1377.72 1125,1379.84 1141.04,1381.05 1157.09,1381.65 1173.44,1382.26 1189.48,1383.77 1205.53,1384.98 1221.57,1386.8 1237.92,1387.1 1253.93,1385.59 1269.97,1383.17 1286.02,1380.44 1302.37,1378.02 1318.41,1373.18 1334.46,1368.63 1350.81,1362.28 1366.85,1358.04 1382.9,1353.5 1398.95,1349.86 1414.99,1346.23 1431.34,1343.2 1447.39,1341.08 1463.43,1340.18 1479.48,1340.48 1495.83,1339.87 1511.87,1338.96 1527.92,1338.36 1543.97,1336.85 1560.31,1335.33 1576.36,1334.73 1592.41,1333.21 1608.45,1331.7 1624.8,1330.79 1640.85,1330.49 1656.89,1330.18 1672.94,1330.18 1689.29,1330.18 1705.33,1331.09 1721.38,1332.3 1737.43,1333.82 1753.78,1335.63 1769.82,1338.06 1785.87,1341.69 1801.91,1345.93 1818.26,1349.86 1834.31,1356.52 1850.35,1361.37 1866.36,1363.49 1882.71,1365 1898.75,1368.03 1914.8,1370.45 1930.84,1372.87 1947.19,1374.69 1963.24,1378.63 1979.29,1382.26 1995.33,1385.59 2011.68,1387.1 2027.73,1387.41 2043.77,1387.71 2059.82,1386.5 2076.17,1385.89 2092.21,1386.19 2108.26,1386.5 2124.31,1383.77 2140.65,1379.53 2156.7,1375.3 2172.75,1371.66 2188.79,1366.82 2205.14,1361.97 2221.19,1358.95 2237.23,1357.43 2253.28,1355.31 2269.63,1353.8 2285.67,1351.38 2301.72,1350.17 2317.77,1348.96 2334.11,1348.65 2350.16,1349.26 2366.21,1351.38 2382.25,1354.41 2398.6,1359.55 2414.65,1364.09 2430.69,1368.63 2446.66,1371.96 2462.71,1375.6 2478.75,1378.63 2495.1,1380.74 2511.15,1382.86 2527.19,1384.08 2543.24,1383.77 2559.59,1383.17 2575.63,1382.26 2591.68,1381.96 2607.73,1381.05 2624.08,1378.32 2640.12,1376.51 2656.17,1374.08 2672.21,1371.36 2688.56,1367.12 2704.61,1364.4 2720.65,1361.37 2736.7,1360.46 2753.05,1358.95 2769.09,1359.25 2785.14,1360.46 2801.19,1362.58 2817.54,1363.79 2833.58,1364.4 2849.63,1365 2865.67,1365.3 2882.02,1365 2898.07,1366.52 2914.11,1369.54 2930.16,1371.66 2946.51,1374.69 2962.56,1377.11 2978.6,1381.05 2994.65,1385.29 3011,1388.62 3027.04,1390.43" fill="none" stroke="#ffeb3b" stroke-width="2.6" stroke-linejoin="round" stroke-linecap="round"/>
<polyline points="13.08,1420.02 29.2,1422.52 45.32,1425.55 61.43,1427.67 77.55,1425.25 93.67,1433.12 109.78,1444.02 125.9,1441.6 142.02,1444.63 158.13,1437.06 174.25,1437.66 190.36,1428.58 206.48,1424.95 222.6,1424.95 238.71,1418.59 254.83,1427.07 270.95,1432.52 287.06,1430.7 303.18,1419.19 319.3,1427.07 335.41,1429.19 351.53,1427.67 367.65,1424.95 383.76,1425.25 399.88,1423.13 416,1415.56 432.11,1413.44 448.23,1432.21 464.35,1432.52 480.46,1431.3 496.58,1425.86 512.69,1425.86 528.81,1427.07 544.93,1426.76 561.04,1427.37 577.16,1422.83 593.28,1390.13 609.39,1378.63 625.51,1372.27 641.63,1378.63 657.74,1387.71 673.86,1372.57 689.98,1377.72 706.09,1385.89 722.21,1389.52 738.33,1358.64 754.44,1358.64 770.56,1357.74 786.68,1357.43 802.79,1349.26 818.91,1369.85 835.02,1362.88 851.14,1368.94 867.26,1379.23 883.37,1380.74 899.49,1372.87 915.61,1380.74 931.72,1388.31 947.84,1385.59 963.96,1364.09 980.07,1363.18 996.19,1366.82 1012.31,1366.21 1028.42,1367.42 1044.54,1374.69 1060.66,1376.51 1076.77,1375.6 1092.89,1400.12 1109.01,1400.73 1125.12,1401.94 1141.24,1403.15 1157.36,1396.19 1173.47,1398.91 1189.59,1382.56 1205.7,1383.47 1221.82,1391.34 1237.94,1368.03 1254.05,1346.53 1270.17,1344.11 1286.29,1337.15 1302.4,1336.24 1318.52,1336.24 1334.64,1328.37 1350.75,1319.29 1366.87,1340.18 1382.99,1335.63 1399.1,1341.39 1415.22,1336.85 1431.34,1354.1 1447.45,1355.31 1463.57,1353.19 1479.68,1351.38 1495.8,1333.21 1511.92,1325.04 1528.03,1328.67 1544.15,1312.62 1560.27,1307.48 1576.38,1311.11 1592.5,1317.47 1608.62,1313.53 1624.73,1323.83 1640.85,1342.29 1656.97,1345.93 1673.08,1354.41 1689.2,1352.59 1705.32,1364.4 1721.43,1353.19 1737.55,1348.05 1753.67,1351.68 1769.78,1347.74 1785.9,1362.28 1802.01,1375.6 1818.13,1377.41 1834.25,1400.73 1850.36,1384.68 1866.48,1368.33 1882.6,1368.33 1898.71,1395.88 1914.83,1394.67 1930.95,1395.28 1947.06,1381.05 1963.18,1397.7 1979.3,1403.45 1995.41,1392.25 2011.53,1382.86 2027.65,1378.63 2043.76,1385.29 2059.88,1384.98 2076,1371.96 2092.11,1374.69 2108.23,1373.18 2124.34,1352.89 2140.46,1340.18 2156.58,1332.91 2172.69,1335.03 2188.81,1331.4 2204.93,1328.67 2221.04,1354.71 2237.16,1358.04 2253.28,1352.29 2269.39,1361.97 2285.51,1353.19 2301.63,1351.68 2317.74,1364.09 2333.86,1367.12 2349.98,1368.03 2366.09,1367.73 2382.21,1373.18 2398.33,1403.45 2414.44,1399.82 2430.56,1391.95 2446.67,1399.21 2462.79,1406.78 2478.91,1394.67 2495.02,1391.64 2511.14,1375.6 2527.26,1374.69 2543.37,1359.55 2559.49,1356.52 2575.61,1353.5 2591.72,1361.97 2607.84,1361.97 2623.96,1362.58 2640.07,1374.69 2656.19,1362.58 2672.31,1361.37 2688.42,1347.44 2704.54,1352.29 2720.66,1349.56 2736.77,1364.09 2752.89,1356.52 2769,1362.58 2785.12,1371.96 2801.24,1383.77 2817.35,1379.23 2833.47,1371.66 2849.59,1371.66 2865.7,1379.53 2881.82,1360.46 2897.94,1379.53 2914.05,1391.64 2930.17,1381.65 2946.29,1389.83 2962.4,1398.91 2978.52,1414.05 2994.64,1422.52 3010.75,1415.56 3026.87,1410.72" fill="none" stroke="#7e57c2" stroke-width="2.3" stroke-linejoin="round" stroke-linecap="round"/>
</g>
<text x="44" y="1348.6" font-size="30.9" fill="#4a4a4a" stroke="#4a4a4a" stroke-width="0.45" textLength="41.59" lengthAdjust="spacingAndGlyphs">RSI</text>
<text x="95.68" y="1348.6" font-size="30.9" fill="#4a4a4a" stroke="#4a4a4a" stroke-width="0.45" textLength="52.3" lengthAdjust="spacingAndGlyphs">(14,</text>
<text x="156.79" y="1348.6" font-size="30.9" fill="#4a4a4a" stroke="#4a4a4a" stroke-width="0.45" textLength="80.44" lengthAdjust="spacingAndGlyphs">close)</text>
<text x="255.21" y="1348.6" font-size="30.9" fill="#7e57c2" stroke="#7e57c2" stroke-width="0.45" textLength="73.79" lengthAdjust="spacingAndGlyphs">41.12</text>
<text x="347.62" y="1348.6" font-size="30.9" fill="#ffeb3b" stroke="#ffeb3b" stroke-width="0.45" textLength="73.99" lengthAdjust="spacingAndGlyphs">50.52</text>
<ellipse cx="454.3" cy="1338.9" rx="9.4" ry="8.5" fill="none" stroke="#4a4a4a" stroke-width="2.3"/>
<line x1="465" y1="1327.4" x2="443.3" y2="1350.2" stroke="#4a4a4a" stroke-width="2.2"/>
<ellipse cx="501" cy="1338.9" rx="9.4" ry="8.5" fill="none" stroke="#4a4a4a" stroke-width="2.3"/>
<line x1="511.7" y1="1327.4" x2="490" y2="1350.2" stroke="#4a4a4a" stroke-width="2.2"/>
<text x="3445.2" y="171.5" font-size="26.9" fill="#4a4a4a" stroke="#4a4a4a" stroke-width="0.45">120,000.00</text>
<text x="3445.2" y="265.3" font-size="26.9" fill="#4a4a4a" stroke="#4a4a4a" stroke-width="0.45">100,000.00</text>
<text x="3445.2" y="348.92" font-size="26.9" fill="#4a4a4a" stroke="#4a4a4a" stroke-width="0.45">85,000.00</text>
<text x="3445.2" y="448.81" font-size="26.9" fill="#4a4a4a" stroke="#4a4a4a" stroke-width="0.45">70,000.00</text>
<text x="3445.2" y="545.57" font-size="26.9" fill="#4a4a4a" stroke="#4a4a4a" stroke-width="0.45">58,000.00</text>
<text x="3445.2" y="621.93" font-size="26.9" fill="#4a4a4a" stroke="#4a4a4a" stroke-width="0.45">50,000.00</text>
<text x="3445.2" y="705.54" font-size="26.9" fill="#4a4a4a" stroke="#4a4a4a" stroke-width="0.45">42,500.00</text>
<text x="3445.2" y="783.85" font-size="26.9" fill="#4a4a4a" stroke="#4a4a4a" stroke-width="0.45">36,500.00</text>
<text x="3445.2" y="876.24" font-size="26.9" fill="#4a4a4a" stroke="#4a4a4a" stroke-width="0.45">30,500.00</text>
<text x="3445.2" y="948.57" font-size="26.9" fill="#4a4a4a" stroke="#4a4a4a" stroke-width="0.45">26,500.00</text>
<text x="3445.2" y="1032.76" font-size="26.9" fill="#4a4a4a" stroke="#4a4a4a" stroke-width="0.45">22,500.00</text>
<text x="3445.2" y="1106.39" font-size="26.9" fill="#4a4a4a" stroke="#4a4a4a" stroke-width="0.45">19,500.00</text>
<text x="3445.2" y="1186.14" font-size="26.9" fill="#4a4a4a" stroke="#4a4a4a" stroke-width="0.45">16,700.00</text>
<text x="3445.2" y="1258.82" font-size="26.9" fill="#4a4a4a" stroke="#4a4a4a" stroke-width="0.45">14,500.00</text>
<text x="3444.4" y="1335.3" font-size="26.9" fill="#4a4a4a" stroke="#4a4a4a" stroke-width="0.45">80.00</text>
<text x="3444.4" y="1422.8" font-size="26.9" fill="#4a4a4a" stroke="#4a4a4a" stroke-width="0.45">40.00</text>
<line x1="3424" y1="67" x2="3424" y2="1525" stroke="#4c4c4c" stroke-width="2.4"/>
<line x1="25" y1="1456" x2="3603" y2="1456" stroke="#4c4c4c" stroke-width="2.4"/>
<text x="141.03" y="1499.9" font-size="26.9" fill="#4a4a4a" stroke="#4a4a4a" stroke-width="0.45" textLength="36.05" lengthAdjust="spacingAndGlyphs">Jul</text>
<text x="281.5" y="1499.9" font-size="26.9" fill="#4a4a4a" stroke="#4a4a4a" stroke-width="0.45" textLength="43.46" lengthAdjust="spacingAndGlyphs">Sep</text>
<text x="423.89" y="1499.9" font-size="26.9" fill="#4a4a4a" stroke="#4a4a4a" stroke-width="0.45" textLength="46.79" lengthAdjust="spacingAndGlyphs">Nov</text>
<text x="545.91" y="1499.9" font-size="26.9" fill="#4a4a4a" font-weight="bold" textLength="62.77" lengthAdjust="spacingAndGlyphs">2023</text>
<text x="698.2" y="1499.9" font-size="26.9" fill="#4a4a4a" stroke="#4a4a4a" stroke-width="0.45" textLength="46.38" lengthAdjust="spacingAndGlyphs">Mar</text>
<text x="826.16" y="1499.9" font-size="26.9" fill="#4a4a4a" stroke="#4a4a4a" stroke-width="0.45" textLength="48.22" lengthAdjust="spacingAndGlyphs">May</text>
<text x="979.03" y="1499.9" font-size="26.9" fill="#4a4a4a" stroke="#4a4a4a" stroke-width="0.45" textLength="36.05" lengthAdjust="spacingAndGlyphs">Jul</text>
<text x="1119.5" y="1499.9" font-size="26.9" fill="#4a4a4a" stroke="#4a4a4a" stroke-width="0.45" textLength="43.46" lengthAdjust="spacingAndGlyphs">Sep</text>
<text x="1261.89" y="1499.9" font-size="26.9" fill="#4a4a4a" stroke="#4a4a4a" stroke-width="0.45" textLength="46.79" lengthAdjust="spacingAndGlyphs">Nov</text>
<text x="1383.93" y="1499.9" font-size="26.9" fill="#4a4a4a" font-weight="bold" textLength="61.9" lengthAdjust="spacingAndGlyphs">2024</text>
<text x="1536.2" y="1499.9" font-size="26.9" fill="#4a4a4a" stroke="#4a4a4a" stroke-width="0.45" textLength="46.38" lengthAdjust="spacingAndGlyphs">Mar</text>
<text x="1680.16" y="1499.9" font-size="26.9" fill="#4a4a4a" stroke="#4a4a4a" stroke-width="0.45" textLength="48.22" lengthAdjust="spacingAndGlyphs">May</text>
<text x="1817.03" y="1499.9" font-size="26.9" fill="#4a4a4a" stroke="#4a4a4a" stroke-width="0.45" textLength="36.05" lengthAdjust="spacingAndGlyphs">Jul</text>
<text x="1957.5" y="1499.9" font-size="26.9" fill="#4a4a4a" stroke="#4a4a4a" stroke-width="0.45" textLength="43.46" lengthAdjust="spacingAndGlyphs">Sep</text>
<text x="2099.89" y="1499.9" font-size="26.9" fill="#4a4a4a" stroke="#4a4a4a" stroke-width="0.45" textLength="46.79" lengthAdjust="spacingAndGlyphs">Nov</text>
<text x="2237.92" y="1499.9" font-size="26.9" fill="#4a4a4a" font-weight="bold" textLength="62.48" lengthAdjust="spacingAndGlyphs">2025</text>
<text x="2374.2" y="1499.9" font-size="26.9" fill="#4a4a4a" stroke="#4a4a4a" stroke-width="0.45" textLength="46.38" lengthAdjust="spacingAndGlyphs">Mar</text>
<text x="2518.16" y="1499.9" font-size="26.9" fill="#4a4a4a" stroke="#4a4a4a" stroke-width="0.45" textLength="48.22" lengthAdjust="spacingAndGlyphs">May</text>
<text x="2671.03" y="1499.9" font-size="26.9" fill="#4a4a4a" stroke="#4a4a4a" stroke-width="0.45" textLength="36.05" lengthAdjust="spacingAndGlyphs">Jul</text>
<text x="2795.5" y="1499.9" font-size="26.9" fill="#4a4a4a" stroke="#4a4a4a" stroke-width="0.45" textLength="43.46" lengthAdjust="spacingAndGlyphs">Sep</text>
<text x="2937.89" y="1499.9" font-size="26.9" fill="#4a4a4a" stroke="#4a4a4a" stroke-width="0.45" textLength="46.79" lengthAdjust="spacingAndGlyphs">Nov</text>
<text x="3075.91" y="1499.9" font-size="26.9" fill="#4a4a4a" font-weight="bold" textLength="62.77" lengthAdjust="spacingAndGlyphs">2026</text>
<text x="3212.2" y="1499.9" font-size="26.9" fill="#4a4a4a" stroke="#4a4a4a" stroke-width="0.45" textLength="46.38" lengthAdjust="spacingAndGlyphs">Mar</text>
<text x="3356.16" y="1499.9" font-size="26.9" fill="#4a4a4a" stroke="#4a4a4a" stroke-width="0.45" textLength="48.22" lengthAdjust="spacingAndGlyphs">May</text>
<rect x="3432.5" y="77" width="161" height="64" rx="9" ry="9" fill="#ffffff" stroke="#efefef" stroke-width="2"/>
<text x="3455.44" y="117.5" font-size="29.6" fill="#131313" stroke="#131313" stroke-width="0.45" textLength="71.04" lengthAdjust="spacingAndGlyphs">USDT</text>
<path d="M3296,275 H3424 V314.8 H3296 a4,4 0 0 1 -4,-4 V279 a4,4 0 0 1 4,-4 Z" fill="#26a69a"/>
<path d="M3425.2,275 H3573.8 a4,4 0 0 1 4,4 V342.6 a4,4 0 0 1 -4,4 H3425.2 Z" fill="#26a69a"/>
<text x="3300.1" y="304.6" font-size="26.9" fill="#ffffff" stroke="#ffffff" stroke-width="0.45" textLength="112.44" lengthAdjust="spacingAndGlyphs">BTCUSDT</text>
<text x="3444.17" y="302.4" font-size="26.9" fill="#ffffff" stroke="#ffffff" stroke-width="0.45" textLength="121.73" lengthAdjust="spacingAndGlyphs">92,862.99</text>
<text x="3444.26" y="334.6" font-size="26.9" fill="#cde9e6" stroke="#cde9e6" stroke-width="0.45" textLength="29.91" lengthAdjust="spacingAndGlyphs">4d</text>
<text x="3482.47" y="334.6" font-size="26.9" fill="#cde9e6" stroke="#cde9e6" stroke-width="0.45" textLength="45.15" lengthAdjust="spacingAndGlyphs">16h</text>
<g fill="#131313">
<path d="M30.1,1580 H59.9 V1617.4 H44.9 V1594.9 H30.1 Z"/>
<circle cx="72.5" cy="1587.4" r="7.5"/>
<path d="M87.7,1580 H104.8 L90.1,1617.4 H72.5 Z"/>
<g transform="translate(115,1570) scale(0.0659935)">
<clipPath id="ca"><rect x="700" y="200" width="512" height="600"/></clipPath>
<clipPath id="cd"><rect x="1200" y="100" width="502" height="700"/></clipPath>
<path d="M115,152 H527 V262 H378 V715 H265 V262 H115 Z"/>
<path d="M533,305 H640 V360 A180,180 0 0 1 770,305 V410 A130.4,130.4 0 0 0 640,540 V715 H533 Z"/>
<g clip-path="url(#ca)"><path fill-rule="evenodd" d="M788.5,508.5 a216.5,216.5 0 1 0 433,0 a216.5,216.5 0 1 0 -433,0 Z M895,510 a110,110 0 1 0 220,0 a110,110 0 1 0 -220,0 Z"/></g>
<rect x="1105" y="305" width="107" height="410"/>
<g clip-path="url(#cd)"><path fill-rule="evenodd" d="M1278.5,508.5 a216.5,216.5 0 1 0 433,0 a216.5,216.5 0 1 0 -433,0 Z M1385,510 a110,110 0 1 0 220,0 a110,110 0 1 0 -220,0 Z"/></g>
<rect x="1592" y="152" width="110" height="563"/>
<rect x="1778" y="305" width="115" height="410"/><circle cx="1836" cy="197" r="68"/>
<path d="M1970,305 H2080 V344 A153,153 0 0 1 2348,445 V715 H2235 V477 A77.5,77.5 0 0 0 2080,477 V715 H1970 Z"/>
</g>
<g transform="translate(260,1570) scale(0.0659935)">
<clipPath id="cg"><rect x="200" y="200" width="445" height="600"/></clipPath>
<g clip-path="url(#cg)"><path fill-rule="evenodd" d="M222,505 a218,218 0 1 0 436,0 a218,218 0 1 0 -436,0 Z M331,503 a109,109 0 1 0 218,0 a109,109 0 1 0 -218,0 Z"/></g>
<path d="M537,305 H645 V690 C645,830 560,900 430,900 C350,900 285,870 240,835 L295,758 C330,785 375,800 430,800 C500,800 537,760 537,690 Z"/>
<path d="M628,152 H755 L930,545 L1080,152 H1210 L985,715 H870 Z"/>
<rect x="1247" y="305" width="115" height="410"/><circle cx="1306" cy="195" r="68"/>
<path fill-rule="evenodd" d="M1865,525 A216,216 0 1 0 1831,624 L1740,563 A106,106 0 0 1 1545,525 Z M1542,455 A115,115 0 0 1 1754,455 Z"/>
<path d="M1860,305 H1985 L2050,560 L2140,305 H2225 L2310,560 L2375,305 H2500 L2370,715 H2255 L2180,480 L2100,715 H1985 Z"/>
</g>
</g>
</g>
</svg>
</body></html>
